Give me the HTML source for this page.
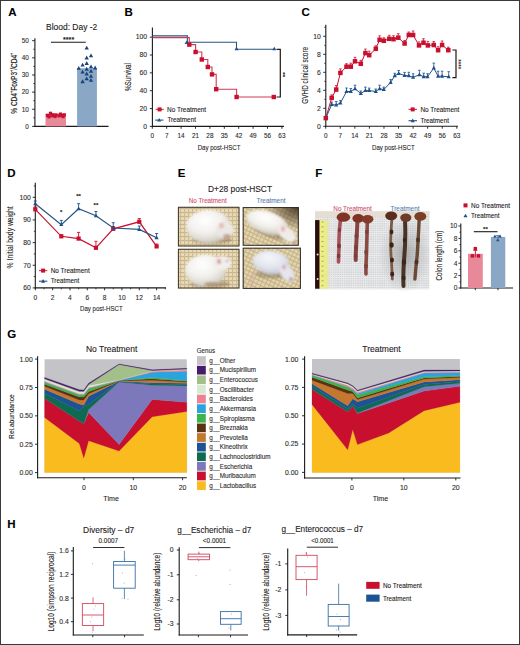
<!DOCTYPE html>
<html><head><meta charset="utf-8"><style>
html,body{margin:0;padding:0;background:#fff;}
svg{display:block;}
text{font-family:"Liberation Sans",sans-serif;}
</style></head><body>
<svg width="520" height="645" viewBox="0 0 520 645">
<rect x="0" y="0" width="520" height="645" fill="#fff"/>
<text x="8.2" y="16.3" font-size="11.5" text-anchor="start" fill="#000" stroke="#000" stroke-width="0.1" font-weight="bold">A</text>
<text x="46" y="29.5" font-size="8.6" text-anchor="start" fill="#1c1a1a" stroke="#1c1a1a" stroke-width="0.1" textLength="51.3" lengthAdjust="spacingAndGlyphs">Blood: Day -2</text>
<line x1="34.9" y1="38.2" x2="34.9" y2="126.9" stroke="#1a1a1a" stroke-width="1.1"/>
<line x1="34.4" y1="126.4" x2="108.5" y2="126.4" stroke="#1a1a1a" stroke-width="1.1"/>
<line x1="32.1" y1="126.4" x2="34.9" y2="126.4" stroke="#1a1a1a" stroke-width="0.9"/>
<text x="28.9" y="128.7" font-size="6.4" text-anchor="end" fill="#2b2b2b" stroke="#2b2b2b" stroke-width="0.1">0</text>
<line x1="32.1" y1="109.26" x2="34.9" y2="109.26" stroke="#1a1a1a" stroke-width="0.9"/>
<text x="28.9" y="111.56" font-size="6.4" text-anchor="end" fill="#2b2b2b" stroke="#2b2b2b" stroke-width="0.1">10</text>
<line x1="32.1" y1="92.12" x2="34.9" y2="92.12" stroke="#1a1a1a" stroke-width="0.9"/>
<text x="28.9" y="94.42" font-size="6.4" text-anchor="end" fill="#2b2b2b" stroke="#2b2b2b" stroke-width="0.1">20</text>
<line x1="32.1" y1="74.98" x2="34.9" y2="74.98" stroke="#1a1a1a" stroke-width="0.9"/>
<text x="28.9" y="77.28" font-size="6.4" text-anchor="end" fill="#2b2b2b" stroke="#2b2b2b" stroke-width="0.1">30</text>
<line x1="32.1" y1="57.84" x2="34.9" y2="57.84" stroke="#1a1a1a" stroke-width="0.9"/>
<text x="28.9" y="60.14" font-size="6.4" text-anchor="end" fill="#2b2b2b" stroke="#2b2b2b" stroke-width="0.1">40</text>
<line x1="32.1" y1="40.7" x2="34.9" y2="40.7" stroke="#1a1a1a" stroke-width="0.9"/>
<text x="28.9" y="43" font-size="6.4" text-anchor="end" fill="#2b2b2b" stroke="#2b2b2b" stroke-width="0.1">50</text>
<line x1="33.3" y1="117.83" x2="34.9" y2="117.83" stroke="#1a1a1a" stroke-width="0.8"/>
<line x1="33.3" y1="100.69" x2="34.9" y2="100.69" stroke="#1a1a1a" stroke-width="0.8"/>
<line x1="33.3" y1="83.55" x2="34.9" y2="83.55" stroke="#1a1a1a" stroke-width="0.8"/>
<line x1="33.3" y1="66.41" x2="34.9" y2="66.41" stroke="#1a1a1a" stroke-width="0.8"/>
<line x1="33.3" y1="49.27" x2="34.9" y2="49.27" stroke="#1a1a1a" stroke-width="0.8"/>
<text x="0" y="0" font-size="8.6" fill="#1c1a1a" stroke="#1c1a1a" stroke-width="0.18" transform="translate(16.8 83.2) rotate(-90)" text-anchor="middle" textLength="61" lengthAdjust="spacingAndGlyphs">% CD4<tspan font-size="5" dy="-3.4">+</tspan><tspan dy="3.4">FoxP3</tspan><tspan font-size="5" dy="-3.4">+</tspan><tspan dy="3.4">/CD4</tspan><tspan font-size="5" dy="-3.4">+</tspan></text>
<rect x="45.5" y="113.5" width="20.5" height="12.9" fill="#e8899a"/>
<rect x="77.1" y="68.2" width="19.8" height="58.2" fill="#8aa7c6"/>
<rect x="45.9" y="113.9" width="3.2" height="3.2" fill="#c8102e"/>
<rect x="48.9" y="111.7" width="3.2" height="3.2" fill="#c8102e"/>
<rect x="51.4" y="113.2" width="3.2" height="3.2" fill="#c8102e"/>
<rect x="54.4" y="113.4" width="3.2" height="3.2" fill="#c8102e"/>
<rect x="57.4" y="114.2" width="3.2" height="3.2" fill="#c8102e"/>
<rect x="60.4" y="113.8" width="3.2" height="3.2" fill="#c8102e"/>
<rect x="62.7" y="113.3" width="3.2" height="3.2" fill="#c8102e"/>
<rect x="47.4" y="115.2" width="3.2" height="3.2" fill="#c8102e"/>
<rect x="53.4" y="114.9" width="3.2" height="3.2" fill="#c8102e"/>
<rect x="58.9" y="112.5" width="3.2" height="3.2" fill="#c8102e"/>
<rect x="50.4" y="114.1" width="3.2" height="3.2" fill="#c8102e"/>
<rect x="61.4" y="115" width="3.2" height="3.2" fill="#c8102e"/>
<polygon points="86.7,45.68 88.85,49.55 84.55,49.55" fill="#1a4478"/>
<polygon points="91,53.38 93.15,57.25 88.85,57.25" fill="#1a4478"/>
<polygon points="86.7,55.58 88.85,59.45 84.55,59.45" fill="#1a4478"/>
<polygon points="82.6,62.68 84.75,66.55 80.45,66.55" fill="#1a4478"/>
<polygon points="86.7,61.08 88.85,64.95 84.55,64.95" fill="#1a4478"/>
<polygon points="78.75,65.88 80.9,69.75 76.6,69.75" fill="#1a4478"/>
<polygon points="91,64.38 93.15,68.25 88.85,68.25" fill="#1a4478"/>
<polygon points="95.1,65.58 97.25,69.45 92.95,69.45" fill="#1a4478"/>
<polygon points="82.6,69.68 84.75,73.55 80.45,73.55" fill="#1a4478"/>
<polygon points="86.7,66.78 88.85,70.65 84.55,70.65" fill="#1a4478"/>
<polygon points="91,68.98 93.15,72.85 88.85,72.85" fill="#1a4478"/>
<polygon points="86.7,71.58 88.85,75.45 84.55,75.45" fill="#1a4478"/>
<polygon points="91,73.98 93.15,77.85 88.85,77.85" fill="#1a4478"/>
<polygon points="82.6,79.28 84.75,83.15 80.45,83.15" fill="#1a4478"/>
<polygon points="86.7,76.43 88.85,80.3 84.55,80.3" fill="#1a4478"/>
<polygon points="91,77.88 93.15,81.75 88.85,81.75" fill="#1a4478"/>
<line x1="51" y1="42.3" x2="85.8" y2="42.3" stroke="#1a1a1a" stroke-width="1.1"/>
<text x="68.6" y="42" font-size="7.2" text-anchor="middle" fill="#1a1a1a" stroke="#1a1a1a" stroke-width="0.1" font-weight="bold">****</text>
<text x="124.5" y="16.3" font-size="11.5" text-anchor="start" fill="#000" stroke="#000" stroke-width="0.1" font-weight="bold">B</text>
<line x1="152.4" y1="27.6" x2="152.4" y2="126.9" stroke="#1a1a1a" stroke-width="1.1"/>
<line x1="151.9" y1="126.4" x2="284" y2="126.4" stroke="#1a1a1a" stroke-width="1.1"/>
<line x1="149.8" y1="126.4" x2="152.4" y2="126.4" stroke="#1a1a1a" stroke-width="0.9"/>
<text x="147" y="128.6" font-size="6.8" text-anchor="end" fill="#2b2b2b" stroke="#2b2b2b" stroke-width="0.1">0</text>
<line x1="149.8" y1="108.55" x2="152.4" y2="108.55" stroke="#1a1a1a" stroke-width="0.9"/>
<text x="147" y="110.75" font-size="6.8" text-anchor="end" fill="#2b2b2b" stroke="#2b2b2b" stroke-width="0.1">20</text>
<line x1="149.8" y1="90.7" x2="152.4" y2="90.7" stroke="#1a1a1a" stroke-width="0.9"/>
<text x="147" y="92.9" font-size="6.8" text-anchor="end" fill="#2b2b2b" stroke="#2b2b2b" stroke-width="0.1">40</text>
<line x1="149.8" y1="72.85" x2="152.4" y2="72.85" stroke="#1a1a1a" stroke-width="0.9"/>
<text x="147" y="75.05" font-size="6.8" text-anchor="end" fill="#2b2b2b" stroke="#2b2b2b" stroke-width="0.1">60</text>
<line x1="149.8" y1="55" x2="152.4" y2="55" stroke="#1a1a1a" stroke-width="0.9"/>
<text x="147" y="57.2" font-size="6.8" text-anchor="end" fill="#2b2b2b" stroke="#2b2b2b" stroke-width="0.1">80</text>
<line x1="149.8" y1="37.15" x2="152.4" y2="37.15" stroke="#1a1a1a" stroke-width="0.9"/>
<text x="147" y="39.35" font-size="6.8" text-anchor="end" fill="#2b2b2b" stroke="#2b2b2b" stroke-width="0.1">100</text>
<line x1="152.3" y1="126.4" x2="152.3" y2="128.8" stroke="#1a1a1a" stroke-width="0.9"/>
<text x="152.3" y="137.7" font-size="6.4" text-anchor="middle" fill="#2b2b2b" stroke="#2b2b2b" stroke-width="0.1">0</text>
<line x1="166.7" y1="126.4" x2="166.7" y2="128.8" stroke="#1a1a1a" stroke-width="0.9"/>
<text x="166.7" y="137.7" font-size="6.4" text-anchor="middle" fill="#2b2b2b" stroke="#2b2b2b" stroke-width="0.1">7</text>
<line x1="181.1" y1="126.4" x2="181.1" y2="128.8" stroke="#1a1a1a" stroke-width="0.9"/>
<text x="181.1" y="137.7" font-size="6.4" text-anchor="middle" fill="#2b2b2b" stroke="#2b2b2b" stroke-width="0.1">14</text>
<line x1="195.5" y1="126.4" x2="195.5" y2="128.8" stroke="#1a1a1a" stroke-width="0.9"/>
<text x="195.5" y="137.7" font-size="6.4" text-anchor="middle" fill="#2b2b2b" stroke="#2b2b2b" stroke-width="0.1">21</text>
<line x1="209.9" y1="126.4" x2="209.9" y2="128.8" stroke="#1a1a1a" stroke-width="0.9"/>
<text x="209.9" y="137.7" font-size="6.4" text-anchor="middle" fill="#2b2b2b" stroke="#2b2b2b" stroke-width="0.1">28</text>
<line x1="224.3" y1="126.4" x2="224.3" y2="128.8" stroke="#1a1a1a" stroke-width="0.9"/>
<text x="224.3" y="137.7" font-size="6.4" text-anchor="middle" fill="#2b2b2b" stroke="#2b2b2b" stroke-width="0.1">35</text>
<line x1="238.69" y1="126.4" x2="238.69" y2="128.8" stroke="#1a1a1a" stroke-width="0.9"/>
<text x="238.69" y="137.7" font-size="6.4" text-anchor="middle" fill="#2b2b2b" stroke="#2b2b2b" stroke-width="0.1">42</text>
<line x1="253.09" y1="126.4" x2="253.09" y2="128.8" stroke="#1a1a1a" stroke-width="0.9"/>
<text x="253.09" y="137.7" font-size="6.4" text-anchor="middle" fill="#2b2b2b" stroke="#2b2b2b" stroke-width="0.1">49</text>
<line x1="267.49" y1="126.4" x2="267.49" y2="128.8" stroke="#1a1a1a" stroke-width="0.9"/>
<text x="267.49" y="137.7" font-size="6.4" text-anchor="middle" fill="#2b2b2b" stroke="#2b2b2b" stroke-width="0.1">56</text>
<line x1="281.89" y1="126.4" x2="281.89" y2="128.8" stroke="#1a1a1a" stroke-width="0.9"/>
<text x="281.89" y="137.7" font-size="6.4" text-anchor="middle" fill="#2b2b2b" stroke="#2b2b2b" stroke-width="0.1">63</text>
<text x="197.7" y="149.6" font-size="8.1" text-anchor="start" fill="#1c1a1a" stroke="#1c1a1a" stroke-width="0.1" textLength="42.7" lengthAdjust="spacingAndGlyphs">Day post-HSCT</text>
<text x="0" y="0" font-size="9.6" text-anchor="middle" fill="#1c1a1a" stroke="#1c1a1a" stroke-width="0.1" textLength="28" lengthAdjust="spacingAndGlyphs" transform="translate(130.6 77) rotate(-90)">%Survival</text>
<polyline points="152.4,35.9 187.4,35.9 187.4,42.3 236.5,42.3 236.5,49.3 274.5,49.3" fill="none" stroke="#265487" stroke-width="1.1" stroke-linejoin="miter"/>
<polyline points="152.4,37.6 189.3,37.6 189.3,44.6 195.6,44.6 195.6,52 201.8,52 201.8,59.5 207.8,59.5 207.8,67 212,67 212,74.4 216.2,74.4 216.2,89.2 236.6,89.2 236.6,97 273.8,97 273.8,97" fill="none" stroke="#cf3a55" stroke-width="1.1" stroke-linejoin="miter"/>
<rect x="187.1" y="42.4" width="4.4" height="4.4" fill="#c8102e"/>
<rect x="193.4" y="49.8" width="4.4" height="4.4" fill="#c8102e"/>
<rect x="199.6" y="57.3" width="4.4" height="4.4" fill="#c8102e"/>
<rect x="205.6" y="64.8" width="4.4" height="4.4" fill="#c8102e"/>
<rect x="209.8" y="72.2" width="4.4" height="4.4" fill="#c8102e"/>
<rect x="214" y="87" width="4.4" height="4.4" fill="#c8102e"/>
<rect x="234.4" y="94.8" width="4.4" height="4.4" fill="#c8102e"/>
<rect x="271.6" y="94.8" width="4.4" height="4.4" fill="#c8102e"/>
<polygon points="186.6,40.44 188.6,44.04 184.6,44.04" fill="#1d4f8b"/>
<polygon points="236.5,46.74 238.5,50.34 234.5,50.34" fill="#1d4f8b"/>
<polygon points="274.3,46.74 276.3,50.34 272.3,50.34" fill="#1d4f8b"/>
<polyline points="276.5,49.3 280.3,49.3 280.3,97 276.5,97" fill="none" stroke="#1a1a1a" stroke-width="1.2" stroke-linejoin="miter"/>
<text x="0" y="0" font-size="6" text-anchor="middle" fill="#1a1a1a" stroke="#1a1a1a" stroke-width="0.1" font-weight="bold" transform="translate(280.6 74.7) rotate(90)">**</text>
<line x1="155.6" y1="109.4" x2="163.8" y2="109.4" stroke="#cf3a55" stroke-width="1.1"/>
<rect x="157.6" y="107.4" width="4" height="4" fill="#c8102e"/>
<text x="167.1" y="111.6" font-size="6.4" text-anchor="start" fill="#1c1a1a" stroke="#1c1a1a" stroke-width="0.1" textLength="39" lengthAdjust="spacingAndGlyphs">No Treatment</text>
<line x1="155.2" y1="120.1" x2="163.4" y2="120.1" stroke="#265487" stroke-width="1.1"/>
<polygon points="159.2,117.94 161.2,121.54 157.2,121.54" fill="#1d4f8b"/>
<text x="167.4" y="122.3" font-size="6.4" text-anchor="start" fill="#1c1a1a" stroke="#1c1a1a" stroke-width="0.1" textLength="28.5" lengthAdjust="spacingAndGlyphs">Treatment</text>
<text x="301.5" y="16.3" font-size="11.5" text-anchor="start" fill="#000" stroke="#000" stroke-width="0.1" font-weight="bold">C</text>
<line x1="325.8" y1="24.8" x2="325.8" y2="126.8" stroke="#1a1a1a" stroke-width="1.1"/>
<line x1="325.3" y1="126.3" x2="458" y2="126.3" stroke="#1a1a1a" stroke-width="1.1"/>
<line x1="323.2" y1="126.3" x2="325.8" y2="126.3" stroke="#1a1a1a" stroke-width="0.9"/>
<text x="320.8" y="128.6" font-size="6.8" text-anchor="end" fill="#2b2b2b" stroke="#2b2b2b" stroke-width="0.1">0</text>
<line x1="323.2" y1="108.3" x2="325.8" y2="108.3" stroke="#1a1a1a" stroke-width="0.9"/>
<text x="320.8" y="110.6" font-size="6.8" text-anchor="end" fill="#2b2b2b" stroke="#2b2b2b" stroke-width="0.1">2</text>
<line x1="323.2" y1="90.3" x2="325.8" y2="90.3" stroke="#1a1a1a" stroke-width="0.9"/>
<text x="320.8" y="92.6" font-size="6.8" text-anchor="end" fill="#2b2b2b" stroke="#2b2b2b" stroke-width="0.1">4</text>
<line x1="323.2" y1="72.3" x2="325.8" y2="72.3" stroke="#1a1a1a" stroke-width="0.9"/>
<text x="320.8" y="74.6" font-size="6.8" text-anchor="end" fill="#2b2b2b" stroke="#2b2b2b" stroke-width="0.1">6</text>
<line x1="323.2" y1="54.3" x2="325.8" y2="54.3" stroke="#1a1a1a" stroke-width="0.9"/>
<text x="320.8" y="56.6" font-size="6.8" text-anchor="end" fill="#2b2b2b" stroke="#2b2b2b" stroke-width="0.1">8</text>
<line x1="323.2" y1="36.3" x2="325.8" y2="36.3" stroke="#1a1a1a" stroke-width="0.9"/>
<text x="320.8" y="38.6" font-size="6.8" text-anchor="end" fill="#2b2b2b" stroke="#2b2b2b" stroke-width="0.1">10</text>
<line x1="324.3" y1="117.3" x2="325.8" y2="117.3" stroke="#1a1a1a" stroke-width="0.8"/>
<line x1="324.3" y1="99.3" x2="325.8" y2="99.3" stroke="#1a1a1a" stroke-width="0.8"/>
<line x1="324.3" y1="81.3" x2="325.8" y2="81.3" stroke="#1a1a1a" stroke-width="0.8"/>
<line x1="324.3" y1="63.3" x2="325.8" y2="63.3" stroke="#1a1a1a" stroke-width="0.8"/>
<line x1="324.3" y1="45.3" x2="325.8" y2="45.3" stroke="#1a1a1a" stroke-width="0.8"/>
<line x1="324.3" y1="27.3" x2="325.8" y2="27.3" stroke="#1a1a1a" stroke-width="0.8"/>
<line x1="325.7" y1="126.3" x2="325.7" y2="128.7" stroke="#1a1a1a" stroke-width="0.9"/>
<text x="325.7" y="137.6" font-size="6.4" text-anchor="middle" fill="#2b2b2b" stroke="#2b2b2b" stroke-width="0.1">0</text>
<line x1="340.27" y1="126.3" x2="340.27" y2="128.7" stroke="#1a1a1a" stroke-width="0.9"/>
<text x="340.27" y="137.6" font-size="6.4" text-anchor="middle" fill="#2b2b2b" stroke="#2b2b2b" stroke-width="0.1">7</text>
<line x1="354.83" y1="126.3" x2="354.83" y2="128.7" stroke="#1a1a1a" stroke-width="0.9"/>
<text x="354.83" y="137.6" font-size="6.4" text-anchor="middle" fill="#2b2b2b" stroke="#2b2b2b" stroke-width="0.1">14</text>
<line x1="369.4" y1="126.3" x2="369.4" y2="128.7" stroke="#1a1a1a" stroke-width="0.9"/>
<text x="369.4" y="137.6" font-size="6.4" text-anchor="middle" fill="#2b2b2b" stroke="#2b2b2b" stroke-width="0.1">21</text>
<line x1="383.97" y1="126.3" x2="383.97" y2="128.7" stroke="#1a1a1a" stroke-width="0.9"/>
<text x="383.97" y="137.6" font-size="6.4" text-anchor="middle" fill="#2b2b2b" stroke="#2b2b2b" stroke-width="0.1">28</text>
<line x1="398.53" y1="126.3" x2="398.53" y2="128.7" stroke="#1a1a1a" stroke-width="0.9"/>
<text x="398.53" y="137.6" font-size="6.4" text-anchor="middle" fill="#2b2b2b" stroke="#2b2b2b" stroke-width="0.1">35</text>
<line x1="413.1" y1="126.3" x2="413.1" y2="128.7" stroke="#1a1a1a" stroke-width="0.9"/>
<text x="413.1" y="137.6" font-size="6.4" text-anchor="middle" fill="#2b2b2b" stroke="#2b2b2b" stroke-width="0.1">42</text>
<line x1="427.67" y1="126.3" x2="427.67" y2="128.7" stroke="#1a1a1a" stroke-width="0.9"/>
<text x="427.67" y="137.6" font-size="6.4" text-anchor="middle" fill="#2b2b2b" stroke="#2b2b2b" stroke-width="0.1">49</text>
<line x1="442.24" y1="126.3" x2="442.24" y2="128.7" stroke="#1a1a1a" stroke-width="0.9"/>
<text x="442.24" y="137.6" font-size="6.4" text-anchor="middle" fill="#2b2b2b" stroke="#2b2b2b" stroke-width="0.1">56</text>
<line x1="456.8" y1="126.3" x2="456.8" y2="128.7" stroke="#1a1a1a" stroke-width="0.9"/>
<text x="456.8" y="137.6" font-size="6.4" text-anchor="middle" fill="#2b2b2b" stroke="#2b2b2b" stroke-width="0.1">63</text>
<text x="372" y="149.6" font-size="8.1" text-anchor="start" fill="#1c1a1a" stroke="#1c1a1a" stroke-width="0.1" textLength="42.7" lengthAdjust="spacingAndGlyphs">Day post-HSCT</text>
<text x="0" y="0" font-size="8.4" text-anchor="middle" fill="#1c1a1a" stroke="#1c1a1a" stroke-width="0.1" textLength="56.8" lengthAdjust="spacingAndGlyphs" transform="translate(308.3 75.3) rotate(-90)">GVHD clinical score</text>
<line x1="331.7" y1="97.9" x2="331.7" y2="94.9" stroke="#c8102e" stroke-width="0.8"/>
<line x1="330.4" y1="94.9" x2="333" y2="94.9" stroke="#c8102e" stroke-width="0.8"/>
<line x1="336.2" y1="89.6" x2="336.2" y2="85.6" stroke="#c8102e" stroke-width="0.8"/>
<line x1="334.9" y1="85.6" x2="337.5" y2="85.6" stroke="#c8102e" stroke-width="0.8"/>
<line x1="340.4" y1="72.9" x2="340.4" y2="68.9" stroke="#c8102e" stroke-width="0.8"/>
<line x1="339.1" y1="68.9" x2="341.7" y2="68.9" stroke="#c8102e" stroke-width="0.8"/>
<line x1="346.5" y1="66.7" x2="346.5" y2="63.7" stroke="#c8102e" stroke-width="0.8"/>
<line x1="345.2" y1="63.7" x2="347.8" y2="63.7" stroke="#c8102e" stroke-width="0.8"/>
<line x1="350.8" y1="66.7" x2="350.8" y2="63.2" stroke="#c8102e" stroke-width="0.8"/>
<line x1="349.5" y1="63.2" x2="352.1" y2="63.2" stroke="#c8102e" stroke-width="0.8"/>
<line x1="355" y1="61.3" x2="355" y2="57.3" stroke="#c8102e" stroke-width="0.8"/>
<line x1="353.7" y1="57.3" x2="356.3" y2="57.3" stroke="#c8102e" stroke-width="0.8"/>
<line x1="360.8" y1="63.8" x2="360.8" y2="60.3" stroke="#c8102e" stroke-width="0.8"/>
<line x1="359.5" y1="60.3" x2="362.1" y2="60.3" stroke="#c8102e" stroke-width="0.8"/>
<line x1="365.4" y1="53.1" x2="365.4" y2="49.1" stroke="#c8102e" stroke-width="0.8"/>
<line x1="364.1" y1="49.1" x2="366.7" y2="49.1" stroke="#c8102e" stroke-width="0.8"/>
<line x1="369.2" y1="55.2" x2="369.2" y2="51.2" stroke="#c8102e" stroke-width="0.8"/>
<line x1="367.9" y1="51.2" x2="370.5" y2="51.2" stroke="#c8102e" stroke-width="0.8"/>
<line x1="375.8" y1="48.8" x2="375.8" y2="45.8" stroke="#c8102e" stroke-width="0.8"/>
<line x1="374.5" y1="45.8" x2="377.1" y2="45.8" stroke="#c8102e" stroke-width="0.8"/>
<line x1="379.6" y1="39.8" x2="379.6" y2="35.8" stroke="#c8102e" stroke-width="0.8"/>
<line x1="378.3" y1="35.8" x2="380.9" y2="35.8" stroke="#c8102e" stroke-width="0.8"/>
<line x1="383.8" y1="40.8" x2="383.8" y2="37.8" stroke="#c8102e" stroke-width="0.8"/>
<line x1="382.5" y1="37.8" x2="385.1" y2="37.8" stroke="#c8102e" stroke-width="0.8"/>
<line x1="389.2" y1="38.8" x2="389.2" y2="35.3" stroke="#c8102e" stroke-width="0.8"/>
<line x1="387.9" y1="35.3" x2="390.5" y2="35.3" stroke="#c8102e" stroke-width="0.8"/>
<line x1="393.5" y1="39.2" x2="393.5" y2="35.7" stroke="#c8102e" stroke-width="0.8"/>
<line x1="392.2" y1="35.7" x2="394.8" y2="35.7" stroke="#c8102e" stroke-width="0.8"/>
<line x1="398.3" y1="37.7" x2="398.3" y2="33.7" stroke="#c8102e" stroke-width="0.8"/>
<line x1="397" y1="33.7" x2="399.6" y2="33.7" stroke="#c8102e" stroke-width="0.8"/>
<line x1="404.6" y1="43.5" x2="404.6" y2="40.5" stroke="#c8102e" stroke-width="0.8"/>
<line x1="403.3" y1="40.5" x2="405.9" y2="40.5" stroke="#c8102e" stroke-width="0.8"/>
<line x1="408.8" y1="35" x2="408.8" y2="32" stroke="#c8102e" stroke-width="0.8"/>
<line x1="407.5" y1="32" x2="410.1" y2="32" stroke="#c8102e" stroke-width="0.8"/>
<line x1="413.1" y1="35" x2="413.1" y2="31" stroke="#c8102e" stroke-width="0.8"/>
<line x1="411.8" y1="31" x2="414.4" y2="31" stroke="#c8102e" stroke-width="0.8"/>
<line x1="419" y1="45.4" x2="419" y2="41.9" stroke="#c8102e" stroke-width="0.8"/>
<line x1="417.7" y1="41.9" x2="420.3" y2="41.9" stroke="#c8102e" stroke-width="0.8"/>
<line x1="423.5" y1="42.7" x2="423.5" y2="38.7" stroke="#c8102e" stroke-width="0.8"/>
<line x1="422.2" y1="38.7" x2="424.8" y2="38.7" stroke="#c8102e" stroke-width="0.8"/>
<line x1="427.9" y1="45.4" x2="427.9" y2="41.4" stroke="#c8102e" stroke-width="0.8"/>
<line x1="426.6" y1="41.4" x2="429.2" y2="41.4" stroke="#c8102e" stroke-width="0.8"/>
<line x1="433.8" y1="45" x2="433.8" y2="41.5" stroke="#c8102e" stroke-width="0.8"/>
<line x1="432.5" y1="41.5" x2="435.1" y2="41.5" stroke="#c8102e" stroke-width="0.8"/>
<line x1="438.1" y1="50.2" x2="438.1" y2="46.7" stroke="#c8102e" stroke-width="0.8"/>
<line x1="436.8" y1="46.7" x2="439.4" y2="46.7" stroke="#c8102e" stroke-width="0.8"/>
<line x1="442.1" y1="45" x2="442.1" y2="41" stroke="#c8102e" stroke-width="0.8"/>
<line x1="440.8" y1="41" x2="443.4" y2="41" stroke="#c8102e" stroke-width="0.8"/>
<line x1="448.3" y1="50.2" x2="448.3" y2="47.2" stroke="#c8102e" stroke-width="0.8"/>
<line x1="447" y1="47.2" x2="449.6" y2="47.2" stroke="#c8102e" stroke-width="0.8"/>
<line x1="331.7" y1="104.6" x2="331.7" y2="102.1" stroke="#1d4f8b" stroke-width="0.8"/>
<line x1="330.4" y1="102.1" x2="333" y2="102.1" stroke="#1d4f8b" stroke-width="0.8"/>
<line x1="336.2" y1="105" x2="336.2" y2="101.5" stroke="#1d4f8b" stroke-width="0.8"/>
<line x1="334.9" y1="101.5" x2="337.5" y2="101.5" stroke="#1d4f8b" stroke-width="0.8"/>
<line x1="340.4" y1="103.1" x2="340.4" y2="100.6" stroke="#1d4f8b" stroke-width="0.8"/>
<line x1="339.1" y1="100.6" x2="341.7" y2="100.6" stroke="#1d4f8b" stroke-width="0.8"/>
<line x1="346.5" y1="91.5" x2="346.5" y2="88" stroke="#1d4f8b" stroke-width="0.8"/>
<line x1="345.2" y1="88" x2="347.8" y2="88" stroke="#1d4f8b" stroke-width="0.8"/>
<line x1="350.8" y1="91.5" x2="350.8" y2="88.5" stroke="#1d4f8b" stroke-width="0.8"/>
<line x1="349.5" y1="88.5" x2="352.1" y2="88.5" stroke="#1d4f8b" stroke-width="0.8"/>
<line x1="355" y1="88.7" x2="355" y2="85.2" stroke="#1d4f8b" stroke-width="0.8"/>
<line x1="353.7" y1="85.2" x2="356.3" y2="85.2" stroke="#1d4f8b" stroke-width="0.8"/>
<line x1="360.8" y1="93.5" x2="360.8" y2="91" stroke="#1d4f8b" stroke-width="0.8"/>
<line x1="359.5" y1="91" x2="362.1" y2="91" stroke="#1d4f8b" stroke-width="0.8"/>
<line x1="365.4" y1="90.6" x2="365.4" y2="87.1" stroke="#1d4f8b" stroke-width="0.8"/>
<line x1="364.1" y1="87.1" x2="366.7" y2="87.1" stroke="#1d4f8b" stroke-width="0.8"/>
<line x1="369.2" y1="90.6" x2="369.2" y2="88.1" stroke="#1d4f8b" stroke-width="0.8"/>
<line x1="367.9" y1="88.1" x2="370.5" y2="88.1" stroke="#1d4f8b" stroke-width="0.8"/>
<line x1="375.8" y1="91.5" x2="375.8" y2="89" stroke="#1d4f8b" stroke-width="0.8"/>
<line x1="374.5" y1="89" x2="377.1" y2="89" stroke="#1d4f8b" stroke-width="0.8"/>
<line x1="379.6" y1="88.7" x2="379.6" y2="85.2" stroke="#1d4f8b" stroke-width="0.8"/>
<line x1="378.3" y1="85.2" x2="380.9" y2="85.2" stroke="#1d4f8b" stroke-width="0.8"/>
<line x1="383.8" y1="89.6" x2="383.8" y2="87.1" stroke="#1d4f8b" stroke-width="0.8"/>
<line x1="382.5" y1="87.1" x2="385.1" y2="87.1" stroke="#1d4f8b" stroke-width="0.8"/>
<line x1="390.6" y1="82.5" x2="390.6" y2="79.5" stroke="#1d4f8b" stroke-width="0.8"/>
<line x1="389.3" y1="79.5" x2="391.9" y2="79.5" stroke="#1d4f8b" stroke-width="0.8"/>
<line x1="394.8" y1="75.8" x2="394.8" y2="73.3" stroke="#1d4f8b" stroke-width="0.8"/>
<line x1="393.5" y1="73.3" x2="396.1" y2="73.3" stroke="#1d4f8b" stroke-width="0.8"/>
<line x1="398.7" y1="73.5" x2="398.7" y2="70.5" stroke="#1d4f8b" stroke-width="0.8"/>
<line x1="397.4" y1="70.5" x2="400" y2="70.5" stroke="#1d4f8b" stroke-width="0.8"/>
<line x1="404.6" y1="75.4" x2="404.6" y2="72.4" stroke="#1d4f8b" stroke-width="0.8"/>
<line x1="403.3" y1="72.4" x2="405.9" y2="72.4" stroke="#1d4f8b" stroke-width="0.8"/>
<line x1="408.8" y1="75.8" x2="408.8" y2="72.3" stroke="#1d4f8b" stroke-width="0.8"/>
<line x1="407.5" y1="72.3" x2="410.1" y2="72.3" stroke="#1d4f8b" stroke-width="0.8"/>
<line x1="413.1" y1="77.3" x2="413.1" y2="73.8" stroke="#1d4f8b" stroke-width="0.8"/>
<line x1="411.8" y1="73.8" x2="414.4" y2="73.8" stroke="#1d4f8b" stroke-width="0.8"/>
<line x1="419.4" y1="74.8" x2="419.4" y2="70.3" stroke="#1d4f8b" stroke-width="0.8"/>
<line x1="418.1" y1="70.3" x2="420.7" y2="70.3" stroke="#1d4f8b" stroke-width="0.8"/>
<line x1="423.7" y1="76.7" x2="423.7" y2="73.2" stroke="#1d4f8b" stroke-width="0.8"/>
<line x1="422.4" y1="73.2" x2="425" y2="73.2" stroke="#1d4f8b" stroke-width="0.8"/>
<line x1="427.5" y1="76.7" x2="427.5" y2="73.7" stroke="#1d4f8b" stroke-width="0.8"/>
<line x1="426.2" y1="73.7" x2="428.8" y2="73.7" stroke="#1d4f8b" stroke-width="0.8"/>
<line x1="433.8" y1="68.1" x2="433.8" y2="63.1" stroke="#1d4f8b" stroke-width="0.8"/>
<line x1="432.5" y1="63.1" x2="435.1" y2="63.1" stroke="#1d4f8b" stroke-width="0.8"/>
<line x1="438.1" y1="76.2" x2="438.1" y2="71.2" stroke="#1d4f8b" stroke-width="0.8"/>
<line x1="436.8" y1="71.2" x2="439.4" y2="71.2" stroke="#1d4f8b" stroke-width="0.8"/>
<line x1="442.1" y1="76.2" x2="442.1" y2="71.2" stroke="#1d4f8b" stroke-width="0.8"/>
<line x1="440.8" y1="71.2" x2="443.4" y2="71.2" stroke="#1d4f8b" stroke-width="0.8"/>
<line x1="448.7" y1="76.7" x2="448.7" y2="71.7" stroke="#1d4f8b" stroke-width="0.8"/>
<line x1="447.4" y1="71.7" x2="450" y2="71.7" stroke="#1d4f8b" stroke-width="0.8"/>
<polyline points="325.8,118.1 331.7,97.9 336.2,89.6 340.4,72.9 346.5,66.7 350.8,66.7 355,61.3 360.8,63.8 365.4,53.1 369.2,55.2 375.8,48.8 379.6,39.8 383.8,40.8 389.2,38.8 393.5,39.2 398.3,37.7 404.6,43.5 408.8,35 413.1,35 419,45.4 423.5,42.7 427.9,45.4 433.8,45 438.1,50.2 442.1,45 448.3,50.2" fill="none" stroke="#c8102e" stroke-width="1" stroke-linejoin="miter"/>
<polyline points="325.8,118.1 331.7,104.6 336.2,105 340.4,103.1 346.5,91.5 350.8,91.5 355,88.7 360.8,93.5 365.4,90.6 369.2,90.6 375.8,91.5 379.6,88.7 383.8,89.6 390.6,82.5 394.8,75.8 398.7,73.5 404.6,75.4 408.8,75.8 413.1,77.3 419.4,74.8 423.7,76.7 427.5,76.7 433.8,68.1 438.1,76.2 442.1,76.2 448.7,76.7" fill="none" stroke="#265487" stroke-width="1" stroke-linejoin="miter"/>
<rect x="323.55" y="115.85" width="4.5" height="4.5" fill="#c8102e"/>
<rect x="329.45" y="95.65" width="4.5" height="4.5" fill="#c8102e"/>
<rect x="333.95" y="87.35" width="4.5" height="4.5" fill="#c8102e"/>
<rect x="338.15" y="70.65" width="4.5" height="4.5" fill="#c8102e"/>
<rect x="344.25" y="64.45" width="4.5" height="4.5" fill="#c8102e"/>
<rect x="348.55" y="64.45" width="4.5" height="4.5" fill="#c8102e"/>
<rect x="352.75" y="59.05" width="4.5" height="4.5" fill="#c8102e"/>
<rect x="358.55" y="61.55" width="4.5" height="4.5" fill="#c8102e"/>
<rect x="363.15" y="50.85" width="4.5" height="4.5" fill="#c8102e"/>
<rect x="366.95" y="52.95" width="4.5" height="4.5" fill="#c8102e"/>
<rect x="373.55" y="46.55" width="4.5" height="4.5" fill="#c8102e"/>
<rect x="377.35" y="37.55" width="4.5" height="4.5" fill="#c8102e"/>
<rect x="381.55" y="38.55" width="4.5" height="4.5" fill="#c8102e"/>
<rect x="386.95" y="36.55" width="4.5" height="4.5" fill="#c8102e"/>
<rect x="391.25" y="36.95" width="4.5" height="4.5" fill="#c8102e"/>
<rect x="396.05" y="35.45" width="4.5" height="4.5" fill="#c8102e"/>
<rect x="402.35" y="41.25" width="4.5" height="4.5" fill="#c8102e"/>
<rect x="406.55" y="32.75" width="4.5" height="4.5" fill="#c8102e"/>
<rect x="410.85" y="32.75" width="4.5" height="4.5" fill="#c8102e"/>
<rect x="416.75" y="43.15" width="4.5" height="4.5" fill="#c8102e"/>
<rect x="421.25" y="40.45" width="4.5" height="4.5" fill="#c8102e"/>
<rect x="425.65" y="43.15" width="4.5" height="4.5" fill="#c8102e"/>
<rect x="431.55" y="42.75" width="4.5" height="4.5" fill="#c8102e"/>
<rect x="435.85" y="47.95" width="4.5" height="4.5" fill="#c8102e"/>
<rect x="439.85" y="42.75" width="4.5" height="4.5" fill="#c8102e"/>
<rect x="446.05" y="47.95" width="4.5" height="4.5" fill="#c8102e"/>
<polygon points="331.7,102.33 333.8,106.11 329.6,106.11" fill="#1d4f8b"/>
<polygon points="336.2,102.73 338.3,106.51 334.1,106.51" fill="#1d4f8b"/>
<polygon points="340.4,100.83 342.5,104.61 338.3,104.61" fill="#1d4f8b"/>
<polygon points="346.5,89.23 348.6,93.01 344.4,93.01" fill="#1d4f8b"/>
<polygon points="350.8,89.23 352.9,93.01 348.7,93.01" fill="#1d4f8b"/>
<polygon points="355,86.43 357.1,90.21 352.9,90.21" fill="#1d4f8b"/>
<polygon points="360.8,91.23 362.9,95.01 358.7,95.01" fill="#1d4f8b"/>
<polygon points="365.4,88.33 367.5,92.11 363.3,92.11" fill="#1d4f8b"/>
<polygon points="369.2,88.33 371.3,92.11 367.1,92.11" fill="#1d4f8b"/>
<polygon points="375.8,89.23 377.9,93.01 373.7,93.01" fill="#1d4f8b"/>
<polygon points="379.6,86.43 381.7,90.21 377.5,90.21" fill="#1d4f8b"/>
<polygon points="383.8,87.33 385.9,91.11 381.7,91.11" fill="#1d4f8b"/>
<polygon points="390.6,80.23 392.7,84.01 388.5,84.01" fill="#1d4f8b"/>
<polygon points="394.8,73.53 396.9,77.31 392.7,77.31" fill="#1d4f8b"/>
<polygon points="398.7,71.23 400.8,75.01 396.6,75.01" fill="#1d4f8b"/>
<polygon points="404.6,73.13 406.7,76.91 402.5,76.91" fill="#1d4f8b"/>
<polygon points="408.8,73.53 410.9,77.31 406.7,77.31" fill="#1d4f8b"/>
<polygon points="413.1,75.03 415.2,78.81 411,78.81" fill="#1d4f8b"/>
<polygon points="419.4,72.53 421.5,76.31 417.3,76.31" fill="#1d4f8b"/>
<polygon points="423.7,74.43 425.8,78.21 421.6,78.21" fill="#1d4f8b"/>
<polygon points="427.5,74.43 429.6,78.21 425.4,78.21" fill="#1d4f8b"/>
<polygon points="433.8,65.83 435.9,69.61 431.7,69.61" fill="#1d4f8b"/>
<polygon points="438.1,73.93 440.2,77.71 436,77.71" fill="#1d4f8b"/>
<polygon points="442.1,73.93 444.2,77.71 440,77.71" fill="#1d4f8b"/>
<polygon points="448.7,74.43 450.8,78.21 446.6,78.21" fill="#1d4f8b"/>
<polyline points="452.4,50 456,50 456,77.6 452.4,77.6" fill="none" stroke="#1a1a1a" stroke-width="1.2" stroke-linejoin="miter"/>
<text x="0" y="0" font-size="6.4" text-anchor="middle" fill="#1a1a1a" stroke="#1a1a1a" stroke-width="0.1" transform="translate(455.6 64.2) rotate(90)">****</text>
<line x1="408.5" y1="109.4" x2="417" y2="109.4" stroke="#cf3a55" stroke-width="1.1"/>
<rect x="410.7" y="107.4" width="4" height="4" fill="#c8102e"/>
<text x="420.4" y="111.6" font-size="6.4" text-anchor="start" fill="#1c1a1a" stroke="#1c1a1a" stroke-width="0.1" textLength="39" lengthAdjust="spacingAndGlyphs">No Treatment</text>
<line x1="408.5" y1="120.7" x2="417" y2="120.7" stroke="#265487" stroke-width="1.1"/>
<polygon points="412.7,118.54 414.7,122.14 410.7,122.14" fill="#1d4f8b"/>
<text x="420.4" y="122.9" font-size="6.4" text-anchor="start" fill="#1c1a1a" stroke="#1c1a1a" stroke-width="0.1" textLength="28.5" lengthAdjust="spacingAndGlyphs">Treatment</text>
<text x="7.3" y="176.6" font-size="11.5" text-anchor="start" fill="#000" stroke="#000" stroke-width="0.1" font-weight="bold">D</text>
<line x1="35.3" y1="182.8" x2="35.3" y2="288.4" stroke="#1a1a1a" stroke-width="1.1"/>
<line x1="34.8" y1="287.9" x2="166" y2="287.9" stroke="#1a1a1a" stroke-width="1.1"/>
<line x1="32.7" y1="287.9" x2="35.3" y2="287.9" stroke="#1a1a1a" stroke-width="0.9"/>
<text x="30.8" y="290.2" font-size="6.8" text-anchor="end" fill="#2b2b2b" stroke="#2b2b2b" stroke-width="0.1">60</text>
<line x1="32.7" y1="265.25" x2="35.3" y2="265.25" stroke="#1a1a1a" stroke-width="0.9"/>
<text x="30.8" y="267.55" font-size="6.8" text-anchor="end" fill="#2b2b2b" stroke="#2b2b2b" stroke-width="0.1">70</text>
<line x1="32.7" y1="242.6" x2="35.3" y2="242.6" stroke="#1a1a1a" stroke-width="0.9"/>
<text x="30.8" y="244.9" font-size="6.8" text-anchor="end" fill="#2b2b2b" stroke="#2b2b2b" stroke-width="0.1">80</text>
<line x1="32.7" y1="219.95" x2="35.3" y2="219.95" stroke="#1a1a1a" stroke-width="0.9"/>
<text x="30.8" y="222.25" font-size="6.8" text-anchor="end" fill="#2b2b2b" stroke="#2b2b2b" stroke-width="0.1">90</text>
<line x1="32.7" y1="197.3" x2="35.3" y2="197.3" stroke="#1a1a1a" stroke-width="0.9"/>
<text x="30.8" y="199.6" font-size="6.8" text-anchor="end" fill="#2b2b2b" stroke="#2b2b2b" stroke-width="0.1">100</text>
<line x1="33.8" y1="276.57" x2="35.3" y2="276.57" stroke="#1a1a1a" stroke-width="0.8"/>
<line x1="33.8" y1="253.92" x2="35.3" y2="253.92" stroke="#1a1a1a" stroke-width="0.8"/>
<line x1="33.8" y1="231.27" x2="35.3" y2="231.27" stroke="#1a1a1a" stroke-width="0.8"/>
<line x1="33.8" y1="208.62" x2="35.3" y2="208.62" stroke="#1a1a1a" stroke-width="0.8"/>
<line x1="33.8" y1="185.97" x2="35.3" y2="185.97" stroke="#1a1a1a" stroke-width="0.8"/>
<line x1="35.3" y1="287.9" x2="35.3" y2="290.3" stroke="#1a1a1a" stroke-width="0.9"/>
<text x="35.3" y="299.6" font-size="6.6" text-anchor="middle" fill="#2b2b2b" stroke="#2b2b2b" stroke-width="0.1">0</text>
<line x1="52.63" y1="287.9" x2="52.63" y2="290.3" stroke="#1a1a1a" stroke-width="0.9"/>
<text x="52.63" y="299.6" font-size="6.6" text-anchor="middle" fill="#2b2b2b" stroke="#2b2b2b" stroke-width="0.1">2</text>
<line x1="69.96" y1="287.9" x2="69.96" y2="290.3" stroke="#1a1a1a" stroke-width="0.9"/>
<text x="69.96" y="299.6" font-size="6.6" text-anchor="middle" fill="#2b2b2b" stroke="#2b2b2b" stroke-width="0.1">4</text>
<line x1="87.28" y1="287.9" x2="87.28" y2="290.3" stroke="#1a1a1a" stroke-width="0.9"/>
<text x="87.28" y="299.6" font-size="6.6" text-anchor="middle" fill="#2b2b2b" stroke="#2b2b2b" stroke-width="0.1">6</text>
<line x1="104.61" y1="287.9" x2="104.61" y2="290.3" stroke="#1a1a1a" stroke-width="0.9"/>
<text x="104.61" y="299.6" font-size="6.6" text-anchor="middle" fill="#2b2b2b" stroke="#2b2b2b" stroke-width="0.1">8</text>
<line x1="121.94" y1="287.9" x2="121.94" y2="290.3" stroke="#1a1a1a" stroke-width="0.9"/>
<text x="121.94" y="299.6" font-size="6.6" text-anchor="middle" fill="#2b2b2b" stroke="#2b2b2b" stroke-width="0.1">10</text>
<line x1="139.27" y1="287.9" x2="139.27" y2="290.3" stroke="#1a1a1a" stroke-width="0.9"/>
<text x="139.27" y="299.6" font-size="6.6" text-anchor="middle" fill="#2b2b2b" stroke="#2b2b2b" stroke-width="0.1">12</text>
<line x1="156.6" y1="287.9" x2="156.6" y2="290.3" stroke="#1a1a1a" stroke-width="0.9"/>
<text x="156.6" y="299.6" font-size="6.6" text-anchor="middle" fill="#2b2b2b" stroke="#2b2b2b" stroke-width="0.1">14</text>
<line x1="43.96" y1="287.9" x2="43.96" y2="289.3" stroke="#1a1a1a" stroke-width="0.8"/>
<line x1="61.29" y1="287.9" x2="61.29" y2="289.3" stroke="#1a1a1a" stroke-width="0.8"/>
<line x1="78.62" y1="287.9" x2="78.62" y2="289.3" stroke="#1a1a1a" stroke-width="0.8"/>
<line x1="95.95" y1="287.9" x2="95.95" y2="289.3" stroke="#1a1a1a" stroke-width="0.8"/>
<line x1="113.28" y1="287.9" x2="113.28" y2="289.3" stroke="#1a1a1a" stroke-width="0.8"/>
<line x1="130.6" y1="287.9" x2="130.6" y2="289.3" stroke="#1a1a1a" stroke-width="0.8"/>
<line x1="147.93" y1="287.9" x2="147.93" y2="289.3" stroke="#1a1a1a" stroke-width="0.8"/>
<line x1="165.26" y1="287.9" x2="165.26" y2="289.3" stroke="#1a1a1a" stroke-width="0.8"/>
<text x="80" y="310.5" font-size="8.1" text-anchor="start" fill="#1c1a1a" stroke="#1c1a1a" stroke-width="0.1" textLength="42.7" lengthAdjust="spacingAndGlyphs">Day post-HSCT</text>
<text x="0" y="0" font-size="8.4" text-anchor="middle" fill="#1c1a1a" stroke="#1c1a1a" stroke-width="0.1" textLength="62" lengthAdjust="spacingAndGlyphs" transform="translate(12.8 237.4) rotate(-90)">% Initial body weight</text>
<line x1="35.3" y1="209.3" x2="35.3" y2="207" stroke="#c8102e" stroke-width="0.9"/>
<line x1="33.8" y1="207" x2="36.8" y2="207" stroke="#c8102e" stroke-width="0.9"/>
<line x1="61.29" y1="236.3" x2="61.29" y2="235" stroke="#c8102e" stroke-width="0.9"/>
<line x1="59.79" y1="235" x2="62.79" y2="235" stroke="#c8102e" stroke-width="0.9"/>
<line x1="78.62" y1="238.6" x2="78.62" y2="232.4" stroke="#c8102e" stroke-width="0.9"/>
<line x1="77.12" y1="232.4" x2="80.12" y2="232.4" stroke="#c8102e" stroke-width="0.9"/>
<line x1="95.95" y1="247.8" x2="95.95" y2="241.3" stroke="#c8102e" stroke-width="0.9"/>
<line x1="94.45" y1="241.3" x2="97.45" y2="241.3" stroke="#c8102e" stroke-width="0.9"/>
<line x1="113.28" y1="228.8" x2="113.28" y2="226.5" stroke="#c8102e" stroke-width="0.9"/>
<line x1="111.78" y1="226.5" x2="114.78" y2="226.5" stroke="#c8102e" stroke-width="0.9"/>
<line x1="139.27" y1="221.8" x2="139.27" y2="218.5" stroke="#c8102e" stroke-width="0.9"/>
<line x1="137.77" y1="218.5" x2="140.77" y2="218.5" stroke="#c8102e" stroke-width="0.9"/>
<line x1="156.6" y1="246.4" x2="156.6" y2="244" stroke="#c8102e" stroke-width="0.9"/>
<line x1="155.1" y1="244" x2="158.1" y2="244" stroke="#c8102e" stroke-width="0.9"/>
<line x1="35.3" y1="203.7" x2="35.3" y2="201" stroke="#1d4f8b" stroke-width="0.9"/>
<line x1="33.8" y1="201" x2="36.8" y2="201" stroke="#1d4f8b" stroke-width="0.9"/>
<line x1="61.29" y1="224.6" x2="61.29" y2="220.4" stroke="#1d4f8b" stroke-width="0.9"/>
<line x1="59.79" y1="220.4" x2="62.79" y2="220.4" stroke="#1d4f8b" stroke-width="0.9"/>
<line x1="78.62" y1="208.7" x2="78.62" y2="203.7" stroke="#1d4f8b" stroke-width="0.9"/>
<line x1="77.12" y1="203.7" x2="80.12" y2="203.7" stroke="#1d4f8b" stroke-width="0.9"/>
<line x1="95.95" y1="215.7" x2="95.95" y2="211.5" stroke="#1d4f8b" stroke-width="0.9"/>
<line x1="94.45" y1="211.5" x2="97.45" y2="211.5" stroke="#1d4f8b" stroke-width="0.9"/>
<line x1="113.28" y1="228" x2="113.28" y2="222.7" stroke="#1d4f8b" stroke-width="0.9"/>
<line x1="111.78" y1="222.7" x2="114.78" y2="222.7" stroke="#1d4f8b" stroke-width="0.9"/>
<line x1="139.27" y1="229.4" x2="139.27" y2="226" stroke="#1d4f8b" stroke-width="0.9"/>
<line x1="137.77" y1="226" x2="140.77" y2="226" stroke="#1d4f8b" stroke-width="0.9"/>
<line x1="156.6" y1="237.7" x2="156.6" y2="233.5" stroke="#1d4f8b" stroke-width="0.9"/>
<line x1="155.1" y1="233.5" x2="158.1" y2="233.5" stroke="#1d4f8b" stroke-width="0.9"/>
<polyline points="35.3,209.3 61.29,236.3 78.62,238.6 95.95,247.8 113.28,228.8 139.27,221.8 156.6,246.4" fill="none" stroke="#c8102e" stroke-width="1.2" stroke-linejoin="miter"/>
<polyline points="35.3,203.7 61.29,224.6 78.62,208.7 95.95,215.7 113.28,228 139.27,229.4 156.6,237.7" fill="none" stroke="#265487" stroke-width="1.2" stroke-linejoin="miter"/>
<rect x="33.2" y="207.2" width="4.2" height="4.2" fill="#c8102e"/>
<rect x="59.19" y="234.2" width="4.2" height="4.2" fill="#c8102e"/>
<rect x="76.52" y="236.5" width="4.2" height="4.2" fill="#c8102e"/>
<rect x="93.85" y="245.7" width="4.2" height="4.2" fill="#c8102e"/>
<rect x="111.18" y="226.7" width="4.2" height="4.2" fill="#c8102e"/>
<rect x="137.17" y="219.7" width="4.2" height="4.2" fill="#c8102e"/>
<rect x="154.5" y="244.3" width="4.2" height="4.2" fill="#c8102e"/>
<polygon points="35.3,201.43 37.4,205.21 33.2,205.21" fill="#1d4f8b"/>
<polygon points="61.29,222.33 63.39,226.11 59.19,226.11" fill="#1d4f8b"/>
<polygon points="78.62,206.43 80.72,210.21 76.52,210.21" fill="#1d4f8b"/>
<polygon points="95.95,213.43 98.05,217.21 93.85,217.21" fill="#1d4f8b"/>
<polygon points="113.28,225.73 115.38,229.51 111.18,229.51" fill="#1d4f8b"/>
<polygon points="139.27,227.13 141.37,230.91 137.17,230.91" fill="#1d4f8b"/>
<polygon points="156.6,235.43 158.7,239.21 154.5,239.21" fill="#1d4f8b"/>
<text x="61.29" y="214" font-size="6" text-anchor="middle" fill="#1a1a1a" stroke="#1a1a1a" stroke-width="0.1" font-weight="bold">*</text>
<text x="78.62" y="198.2" font-size="6" text-anchor="middle" fill="#1a1a1a" stroke="#1a1a1a" stroke-width="0.1" font-weight="bold">**</text>
<text x="95.95" y="206.8" font-size="6" text-anchor="middle" fill="#1a1a1a" stroke="#1a1a1a" stroke-width="0.1" font-weight="bold">**</text>
<line x1="39" y1="270.6" x2="47.3" y2="270.6" stroke="#cf3a55" stroke-width="1.1"/>
<rect x="41.1" y="268.6" width="4" height="4" fill="#c8102e"/>
<text x="50.7" y="272.8" font-size="6.4" text-anchor="start" fill="#1c1a1a" stroke="#1c1a1a" stroke-width="0.1" textLength="39" lengthAdjust="spacingAndGlyphs">No Treatment</text>
<line x1="39" y1="281.2" x2="47.3" y2="281.2" stroke="#265487" stroke-width="1.1"/>
<polygon points="43.1,279.04 45.1,282.64 41.1,282.64" fill="#1d4f8b"/>
<text x="50.7" y="283.4" font-size="6.4" text-anchor="start" fill="#1c1a1a" stroke="#1c1a1a" stroke-width="0.1" textLength="28.5" lengthAdjust="spacingAndGlyphs">Treatment</text>
<text x="177.8" y="176.6" font-size="11.5" text-anchor="start" fill="#000" stroke="#000" stroke-width="0.1" font-weight="bold">E</text>
<text x="240" y="192" font-size="9.3" text-anchor="middle" fill="#1a1a1a" stroke="#1a1a1a" stroke-width="0.1" textLength="64" lengthAdjust="spacingAndGlyphs">D+28 post-HSCT</text>
<text x="207.8" y="202.8" font-size="6.6" text-anchor="middle" fill="#d2506e" stroke="#d2506e" stroke-width="0.1" textLength="38" lengthAdjust="spacingAndGlyphs">No Treatment</text>
<text x="271" y="202.8" font-size="6.6" text-anchor="middle" fill="#5a7fb0" stroke="#5a7fb0" stroke-width="0.1" textLength="29" lengthAdjust="spacingAndGlyphs">Treatment</text>
<defs>
<pattern id="mesh" width="4" height="4" patternUnits="userSpaceOnUse"><rect width="4" height="4" fill="#e6dab9"/><rect width="4" height="1.1" fill="#cab589"/><rect width="1.1" height="4" fill="#cfbb8f"/></pattern>
<pattern id="mesh2" width="4" height="4" patternUnits="userSpaceOnUse" patternTransform="rotate(25)"><rect width="4" height="4" fill="#e2d6b3"/><rect width="4" height="1.1" fill="#c5af80"/><rect width="1.1" height="4" fill="#cab588"/></pattern>
<radialGradient id="mouse" cx="0.42" cy="0.32" r="0.72"><stop offset="0" stop-color="#ffffff"/><stop offset="0.5" stop-color="#f3f1ed"/><stop offset="0.8" stop-color="#dedad3"/><stop offset="1" stop-color="#c4bcb0"/></radialGradient>
<radialGradient id="mouseb" cx="0.42" cy="0.32" r="0.72"><stop offset="0" stop-color="#f6f7fb"/><stop offset="0.55" stop-color="#e3e5ee"/><stop offset="0.85" stop-color="#cfd1dc"/><stop offset="1" stop-color="#b8b8c4"/></radialGradient>
<radialGradient id="dark" cx="1" cy="0" r="0.6"><stop offset="0" stop-color="#3b2a1a" stop-opacity="0.9"/><stop offset="1" stop-color="#3b2a1a" stop-opacity="0"/></radialGradient>
<filter id="blur1" x="-20%" y="-20%" width="140%" height="140%"><feGaussianBlur stdDeviation="0.8"/></filter>
<filter id="blur05"><feGaussianBlur stdDeviation="0.5"/></filter>
</defs>
<g>
<rect x="177.9" y="206.8" width="61.6" height="39.7" fill="url(#mesh)" filter="url(#blur05)"/>
<g filter="url(#blur1)">
<ellipse cx="212" cy="240" rx="20" ry="4" fill="#8a7250" opacity="0.5"/>
<ellipse cx="208.5" cy="226.5" rx="22.5" ry="16.5" fill="url(#mouse)"/>
<ellipse cx="225" cy="230" rx="9" ry="8" fill="#ebe7e2"/>
<ellipse cx="221.5" cy="225.5" rx="2.2" ry="2.8" fill="#e6b8b0"/>
<ellipse cx="227" cy="236" rx="4" ry="2" fill="#c9a49a"/>
</g>
<rect x="178.4" y="207.3" width="60.6" height="38.7" fill="none" stroke="#3a3328" stroke-width="1"/>
</g>
<rect x="242.7" y="207.1" width="56.1" height="38.7" fill="url(#mesh2)" filter="url(#blur05)"/>
<rect x="242.7" y="207.1" width="56.1" height="38.7" fill="url(#dark)"/>
<g filter="url(#blur1)">
<ellipse cx="272" cy="233" rx="20" ry="5" transform="rotate(18 272 233)" fill="#7a6244" opacity="0.45"/>
<ellipse cx="267" cy="222.5" rx="21.5" ry="11" transform="rotate(18 267 222.5)" fill="url(#mouse)"/>
<ellipse cx="287" cy="234" rx="10.5" ry="6" transform="rotate(38 287 234)" fill="#efebe8"/>
<ellipse cx="283" cy="229" rx="2.2" ry="2.8" fill="#e8b8b5"/>
<ellipse cx="294.5" cy="242" rx="2" ry="1.5" fill="#b89088"/>
</g>
<rect x="243.2" y="207.6" width="55.1" height="37.7" fill="none" stroke="#2e2a26" stroke-width="1"/>
<rect x="177.9" y="248.8" width="61.6" height="39.7" fill="url(#mesh)" filter="url(#blur05)"/>
<g filter="url(#blur1)">
<ellipse cx="210" cy="284" rx="20" ry="4" fill="#8a7250" opacity="0.5"/>
<ellipse cx="205.5" cy="270.5" rx="20.5" ry="16" fill="url(#mouse)"/>
<ellipse cx="222" cy="263" rx="9.5" ry="7" fill="#f1eeeb"/>
<ellipse cx="219" cy="261.5" rx="2" ry="2.8" fill="#d9a0a0"/>
<ellipse cx="227" cy="261" rx="1.2" ry="1" fill="#8a94b0"/>
<ellipse cx="212" cy="284" rx="8" ry="2" fill="#b49a78"/>
</g>
<rect x="178.4" y="249.3" width="60.6" height="38.7" fill="none" stroke="#3a3328" stroke-width="1"/>
<rect x="242.7" y="247.7" width="58.2" height="41.2" fill="url(#mesh2)" filter="url(#blur05)"/>
<g filter="url(#blur1)">
<path d="M255 271 Q250 282 252 286" stroke="#d8a0a0" stroke-width="1.3" fill="none"/>
<ellipse cx="274" cy="274" rx="18" ry="4.5" fill="#7a6a50" opacity="0.45"/>
<ellipse cx="271" cy="262.5" rx="18.5" ry="11.5" transform="rotate(8 271 262.5)" fill="url(#mouseb)"/>
<ellipse cx="287" cy="273" rx="10" ry="6" transform="rotate(55 287 273)" fill="#e6e4ec"/>
<ellipse cx="284" cy="267" rx="2.2" ry="2.6" fill="#d6b0b8"/>
<ellipse cx="291" cy="279" rx="1.5" ry="1.5" fill="#9a6a70"/>
</g>
<rect x="243.2" y="248.2" width="57.2" height="40.2" fill="none" stroke="#2e2a26" stroke-width="1"/>
<text x="315.2" y="176.9" font-size="11.5" text-anchor="start" fill="#000" stroke="#000" stroke-width="0.1" font-weight="bold">F</text>
<text x="352.6" y="210.5" font-size="6.6" text-anchor="middle" fill="#d2506e" stroke="#d2506e" stroke-width="0.1" textLength="38.5" lengthAdjust="spacingAndGlyphs">No Treatment</text>
<text x="405" y="210.5" font-size="6.6" text-anchor="middle" fill="#5a7fb0" stroke="#5a7fb0" stroke-width="0.1" textLength="29" lengthAdjust="spacingAndGlyphs">Treatment</text>
<defs>
<pattern id="grid" width="2.2" height="2.2" patternUnits="userSpaceOnUse"><rect width="2.2" height="2.2" fill="#cfd0d2"/><rect width="2.2" height="0.9" fill="#eeeff0"/><rect width="0.9" height="2.2" fill="#e8e9ea"/></pattern>
<linearGradient id="ruler" x1="0" x2="1"><stop offset="0" stop-color="#f0f27a"/><stop offset="1" stop-color="#e6e6a0"/></linearGradient>
<radialGradient id="shadowF" cx="0.5" cy="0.5" r="0.5"><stop offset="0" stop-color="#7a7a7a" stop-opacity="0.55"/><stop offset="1" stop-color="#8a8a8a" stop-opacity="0"/></radialGradient>
</defs>
<rect x="315.1" y="211.3" width="114.3" height="78" fill="url(#grid)"/>
<rect x="315.1" y="211.3" width="114.3" height="6" fill="#e4ddd0"/>
<ellipse cx="405" cy="255" rx="26" ry="38" fill="url(#shadowF)"/>
<rect x="315.1" y="220.1" width="4.6" height="68.6" fill="#2b0c0a"/>
<circle cx="317.6" cy="254.5" r="1" fill="#f0e8e8"/><circle cx="317.6" cy="279" r="1" fill="#f0e8e8"/>
<rect x="319.7" y="220.1" width="9" height="68.6" fill="url(#ruler)"/>
<line x1="321.5" y1="222" x2="323.5" y2="222" stroke="#7a7a30" stroke-width="0.6"/>
<line x1="321.5" y1="226.9" x2="323.5" y2="226.9" stroke="#7a7a30" stroke-width="0.6"/>
<line x1="321.5" y1="231.8" x2="323.5" y2="231.8" stroke="#7a7a30" stroke-width="0.6"/>
<line x1="321.5" y1="236.7" x2="323.5" y2="236.7" stroke="#7a7a30" stroke-width="0.6"/>
<line x1="321.5" y1="241.6" x2="323.5" y2="241.6" stroke="#7a7a30" stroke-width="0.6"/>
<line x1="321.5" y1="246.5" x2="323.5" y2="246.5" stroke="#7a7a30" stroke-width="0.6"/>
<line x1="321.5" y1="251.4" x2="323.5" y2="251.4" stroke="#7a7a30" stroke-width="0.6"/>
<line x1="321.5" y1="256.3" x2="323.5" y2="256.3" stroke="#7a7a30" stroke-width="0.6"/>
<line x1="321.5" y1="261.2" x2="323.5" y2="261.2" stroke="#7a7a30" stroke-width="0.6"/>
<line x1="321.5" y1="266.1" x2="323.5" y2="266.1" stroke="#7a7a30" stroke-width="0.6"/>
<line x1="321.5" y1="271" x2="323.5" y2="271" stroke="#7a7a30" stroke-width="0.6"/>
<line x1="321.5" y1="275.9" x2="323.5" y2="275.9" stroke="#7a7a30" stroke-width="0.6"/>
<line x1="321.5" y1="280.8" x2="323.5" y2="280.8" stroke="#7a7a30" stroke-width="0.6"/>
<line x1="321.5" y1="285.7" x2="323.5" y2="285.7" stroke="#7a7a30" stroke-width="0.6"/>
<g filter="url(#blur05)">
<path d="M340.5 219 Q338.5 235 339 248 Q338.5 256 338.5 262" stroke="#a9505c" stroke-width="3.6" fill="none" stroke-linecap="round"/>
<ellipse cx="339.5" cy="230" rx="1.6" ry="2.08" fill="#7a3a34"/>
<ellipse cx="339" cy="246" rx="1.9" ry="2.4699999999999998" fill="#7a3a34"/>
<ellipse cx="338.6" cy="256" rx="1.7" ry="2.21" fill="#7a3a34"/>
<ellipse cx="343.4" cy="217.2" rx="6.8" ry="4.6" fill="#7e3628"/>
<path d="M357.5 220 Q356.5 240 356 250 Q355.5 256 355.8 260" stroke="#8c4242" stroke-width="4" fill="none" stroke-linecap="round"/>
<ellipse cx="356.5" cy="236" rx="2" ry="2.6" fill="#7a4038"/>
<ellipse cx="356" cy="247" rx="2" ry="2.6" fill="#7a4038"/>
<ellipse cx="355.8" cy="256" rx="1.8" ry="2.3400000000000003" fill="#7a4038"/>
<ellipse cx="358.2" cy="218.4" rx="5.8" ry="4.4" fill="#7e3428"/>
<path d="M367.3 221 Q366.8 245 366.3 258 Q365.8 268 366 274" stroke="#8c4a42" stroke-width="3.6" fill="none" stroke-linecap="round"/>
<ellipse cx="366.8" cy="232" rx="1.8" ry="2.3400000000000003" fill="#7a4438"/>
<ellipse cx="366.2" cy="252" rx="2" ry="2.6" fill="#7a4438"/>
<ellipse cx="366" cy="266" rx="2" ry="2.6" fill="#7a4438"/>
<ellipse cx="367.6" cy="219.2" rx="5.8" ry="4.2" fill="#843a2a"/>
<path d="M392 218 Q390 240 391 255 Q392 268 392.3 279" stroke="#7c5a48" stroke-width="2.8" fill="none" stroke-linecap="round"/>
<ellipse cx="391.5" cy="232" rx="1.9" ry="2.4699999999999998" fill="#3e2418"/>
<ellipse cx="391.6" cy="245" rx="2.1" ry="2.7300000000000004" fill="#3e2418"/>
<ellipse cx="392" cy="260" rx="2" ry="2.6" fill="#3e2418"/>
<ellipse cx="392.2" cy="274" rx="2" ry="2.6" fill="#3e2418"/>
<ellipse cx="391.2" cy="215.8" rx="6" ry="4.4" fill="#5a2e1e"/>
<path d="M405 220 Q406 240 404 260 Q403 275 403.5 286" stroke="#4a3325" stroke-width="4" fill="none" stroke-linecap="round"/>
<ellipse cx="404.8" cy="240" rx="2" ry="2.6" fill="#3a281e"/>
<ellipse cx="404" cy="262" rx="2.2" ry="2.8600000000000003" fill="#3a281e"/>
<ellipse cx="403.6" cy="278" rx="2" ry="2.6" fill="#3a281e"/>
<ellipse cx="405.8" cy="217.8" rx="5.6" ry="4.2" fill="#6e3a2a"/>
<path d="M419.2 219 Q418.2 240 417.2 255 Q415.7 268 414.9 279" stroke="#6a4a36" stroke-width="3.4" fill="none" stroke-linecap="round"/>
<ellipse cx="418" cy="240" rx="1.9" ry="2.4699999999999998" fill="#4a3020"/>
<ellipse cx="416.5" cy="262" rx="2" ry="2.6" fill="#4a3020"/>
<ellipse cx="420.3" cy="216.4" rx="6" ry="4.4" fill="#7a4028"/>
</g>
<line x1="460.8" y1="223.6" x2="460.8" y2="288.5" stroke="#1a1a1a" stroke-width="1.1"/>
<line x1="460.3" y1="288" x2="513.1" y2="288" stroke="#1a1a1a" stroke-width="1.1"/>
<line x1="458.4" y1="288" x2="460.8" y2="288" stroke="#1a1a1a" stroke-width="0.9"/>
<text x="457.3" y="290.3" font-size="6.6" text-anchor="end" fill="#2b2b2b" stroke="#2b2b2b" stroke-width="0.1">0</text>
<line x1="458.4" y1="275.6" x2="460.8" y2="275.6" stroke="#1a1a1a" stroke-width="0.9"/>
<text x="457.3" y="277.9" font-size="6.6" text-anchor="end" fill="#2b2b2b" stroke="#2b2b2b" stroke-width="0.1">2</text>
<line x1="458.4" y1="263.2" x2="460.8" y2="263.2" stroke="#1a1a1a" stroke-width="0.9"/>
<text x="457.3" y="265.5" font-size="6.6" text-anchor="end" fill="#2b2b2b" stroke="#2b2b2b" stroke-width="0.1">4</text>
<line x1="458.4" y1="250.8" x2="460.8" y2="250.8" stroke="#1a1a1a" stroke-width="0.9"/>
<text x="457.3" y="253.1" font-size="6.6" text-anchor="end" fill="#2b2b2b" stroke="#2b2b2b" stroke-width="0.1">6</text>
<line x1="458.4" y1="238.4" x2="460.8" y2="238.4" stroke="#1a1a1a" stroke-width="0.9"/>
<text x="457.3" y="240.7" font-size="6.6" text-anchor="end" fill="#2b2b2b" stroke="#2b2b2b" stroke-width="0.1">8</text>
<line x1="458.4" y1="226" x2="460.8" y2="226" stroke="#1a1a1a" stroke-width="0.9"/>
<text x="457.3" y="228.3" font-size="6.6" text-anchor="end" fill="#2b2b2b" stroke="#2b2b2b" stroke-width="0.1">10</text>
<line x1="459.4" y1="281.8" x2="460.8" y2="281.8" stroke="#1a1a1a" stroke-width="0.8"/>
<line x1="459.4" y1="269.4" x2="460.8" y2="269.4" stroke="#1a1a1a" stroke-width="0.8"/>
<line x1="459.4" y1="257" x2="460.8" y2="257" stroke="#1a1a1a" stroke-width="0.8"/>
<line x1="459.4" y1="244.6" x2="460.8" y2="244.6" stroke="#1a1a1a" stroke-width="0.8"/>
<line x1="459.4" y1="232.2" x2="460.8" y2="232.2" stroke="#1a1a1a" stroke-width="0.8"/>
<line x1="475.3" y1="288" x2="475.3" y2="290.2" stroke="#1a1a1a" stroke-width="0.9"/>
<line x1="498" y1="288" x2="498" y2="290.2" stroke="#1a1a1a" stroke-width="0.9"/>
<text x="0" y="0" font-size="8.4" text-anchor="middle" fill="#1c1a1a" stroke="#1c1a1a" stroke-width="0.1" textLength="50" lengthAdjust="spacingAndGlyphs" transform="translate(442.4 255.6) rotate(-90)">Colon length (cm)</text>
<rect x="468" y="253.8" width="14.8" height="34.2" fill="#e8899a"/>
<rect x="490.9" y="237" width="14.4" height="51" fill="#8aa7c6"/>
<line x1="475.4" y1="250.3" x2="475.4" y2="257.3" stroke="#c8102e" stroke-width="0.9"/>
<line x1="473.4" y1="250.3" x2="477.4" y2="250.3" stroke="#c8102e" stroke-width="0.9"/>
<line x1="498.1" y1="235.8" x2="498.1" y2="238.2" stroke="#1d4f8b" stroke-width="0.9"/>
<line x1="496.1" y1="235.8" x2="500.1" y2="235.8" stroke="#1d4f8b" stroke-width="0.9"/>
<rect x="473.6" y="246.9" width="3.4" height="3.4" fill="#c8102e"/>
<rect x="470.7" y="254.2" width="3.4" height="3.4" fill="#c8102e"/>
<rect x="476.8" y="254.2" width="3.4" height="3.4" fill="#c8102e"/>
<polygon points="494.9,234.56 496.6,237.62 493.2,237.62" fill="#1d4f8b"/>
<polygon points="500.1,234.56 501.8,237.62 498.4,237.62" fill="#1d4f8b"/>
<polygon points="497.8,238.16 499.5,241.22 496.1,241.22" fill="#1d4f8b"/>
<line x1="473.8" y1="231.7" x2="497.5" y2="231.7" stroke="#1a1a1a" stroke-width="1.1"/>
<text x="485.4" y="231" font-size="6" text-anchor="middle" fill="#1a1a1a" stroke="#1a1a1a" stroke-width="0.1" font-weight="bold">**</text>
<rect x="463.5" y="203.4" width="4" height="4" fill="#c8102e"/>
<text x="471" y="207.7" font-size="6.4" text-anchor="start" fill="#1c1a1a" stroke="#1c1a1a" stroke-width="0.1" textLength="39" lengthAdjust="spacingAndGlyphs">No Treatment</text>
<polygon points="465.5,213.64 467.5,217.24 463.5,217.24" fill="#1d4f8b"/>
<text x="471" y="218.1" font-size="6.4" text-anchor="start" fill="#1c1a1a" stroke="#1c1a1a" stroke-width="0.1" textLength="28.5" lengthAdjust="spacingAndGlyphs">Treatment</text>
<text x="7.3" y="337.6" font-size="11.5" text-anchor="start" fill="#000" stroke="#000" stroke-width="0.1" font-weight="bold">G</text>
<polygon points="44.6,359.2 186.8,359.2 186.8,472.5 44.6,472.5" fill="#c3c3c8"/>
<polygon points="44.6,417.4 79.3,443.5 83.8,458 88.6,440.7 119.1,451 152.2,416.7 186.8,411.5 186.8,472.5 152.2,472.5 119.1,472.5 88.6,472.5 83.8,472.5 79.3,472.5 44.6,472.5" fill="#f9bb1e" stroke="#f9bb1e" stroke-width="0.25"/>
<polygon points="44.6,398.3 79.3,421 83.8,423.6 88.6,412.5 119.1,444.4 152.2,399.4 186.8,402.3 186.8,411.5 152.2,416.7 119.1,451 88.6,440.7 83.8,458 79.3,443.5 44.6,417.4" fill="#c8102e" stroke="#c8102e" stroke-width="0.25"/>
<polygon points="44.6,398.3 79.3,421 83.8,423.6 88.6,409.5 119.1,382 152.2,385.2 186.8,385.9 186.8,402.3 152.2,399.4 119.1,444.4 88.6,412.5 83.8,423.6 79.3,421 44.6,398.3" fill="#7d78bb" stroke="#7d78bb" stroke-width="0.25"/>
<polygon points="44.6,393.3 79.3,411 83.8,406.6 88.6,404.5 119.1,381.7 152.2,384 186.8,384.6 186.8,385.9 152.2,385.2 119.1,382 88.6,409.5 83.8,423.6 79.3,421 44.6,398.3" fill="#0e6b50" stroke="#0e6b50" stroke-width="0.25"/>
<polygon points="44.6,389.3 79.3,404 83.8,405.1 88.6,396.2 119.1,381.3 152.2,382.7 186.8,383.3 186.8,384.6 152.2,384 119.1,381.7 88.6,404.5 83.8,406.6 79.3,411 44.6,393.3" fill="#1b5394" stroke="#1b5394" stroke-width="0.25"/>
<polygon points="44.6,386.3 79.3,400 83.8,400.1 88.6,393.7 119.1,380.9 152.2,380.2 186.8,382.1 186.8,383.3 152.2,382.7 119.1,381.3 88.6,396.2 83.8,405.1 79.3,404 44.6,389.3" fill="#c5772e" stroke="#c5772e" stroke-width="0.25"/>
<polygon points="44.6,384.3 79.3,397 83.8,397.1 88.6,391.7 119.1,380.6 152.2,378.7 186.8,381.3 186.8,382.1 152.2,380.2 119.1,380.9 88.6,393.7 83.8,400.1 79.3,400 44.6,386.3" fill="#5a3212" stroke="#5a3212" stroke-width="0.25"/>
<polygon points="44.6,382.3 79.3,395 83.8,395.1 88.6,388.7 119.1,380.4 152.2,377.5 186.8,380.4 186.8,381.3 152.2,378.7 119.1,380.6 88.6,391.7 83.8,397.1 79.3,397 44.6,384.3" fill="#3cb44a" stroke="#3cb44a" stroke-width="0.25"/>
<polygon points="44.6,382 79.3,394.7 83.8,394.8 88.6,388.4 119.1,380.2 152.2,372.3 186.8,371.2 186.8,380.4 152.2,377.5 119.1,380.4 88.6,388.7 83.8,395.1 79.3,395 44.6,382.3" fill="#2aa4df" stroke="#2aa4df" stroke-width="0.25"/>
<polygon points="44.6,381 79.3,393.7 83.8,393.8 88.6,387.4 119.1,380 152.2,371.3 186.8,369.8 186.8,371.2 152.2,372.3 119.1,380.2 88.6,388.4 83.8,394.8 79.3,394.7 44.6,382" fill="#ec8394" stroke="#ec8394" stroke-width="0.25"/>
<polygon points="44.6,379 79.3,391.7 83.8,391.8 88.6,385.4 119.1,379.7 152.2,370.9 186.8,369.4 186.8,369.8 152.2,371.3 119.1,380 88.6,387.4 83.8,393.8 79.3,393.7 44.6,381" fill="#d6eacf" stroke="#d6eacf" stroke-width="0.25"/>
<polygon points="44.6,378.8 79.3,391.2 83.8,391.3 88.6,384.4 119.1,364.5 152.2,370.6 186.8,369.1 186.8,369.4 152.2,370.9 119.1,379.7 88.6,385.4 83.8,391.8 79.3,391.7 44.6,379" fill="#a4c08a" stroke="#a4c08a" stroke-width="0.25"/>
<polygon points="44.6,377.4 79.3,389.7 83.8,390.1 88.6,383.2 119.1,364 152.2,369.8 186.8,368.3 186.8,369.1 152.2,370.6 119.1,364.5 88.6,384.4 83.8,391.3 79.3,391.2 44.6,378.8" fill="#4a1b6c" stroke="#4a1b6c" stroke-width="0.25"/>
<line x1="37.6" y1="356.3" x2="37.6" y2="478.3" stroke="#1a1a1a" stroke-width="1.1"/>
<line x1="37.1" y1="477.8" x2="186.8" y2="477.8" stroke="#1a1a1a" stroke-width="1.1"/>
<line x1="35" y1="472.6" x2="37.6" y2="472.6" stroke="#1a1a1a" stroke-width="0.9"/>
<text x="32.8" y="475" font-size="6.9" text-anchor="end" fill="#2b2b2b" stroke="#2b2b2b" stroke-width="0.1">0.00</text>
<line x1="35" y1="444.23" x2="37.6" y2="444.23" stroke="#1a1a1a" stroke-width="0.9"/>
<text x="32.8" y="446.62" font-size="6.9" text-anchor="end" fill="#2b2b2b" stroke="#2b2b2b" stroke-width="0.1">0.25</text>
<line x1="35" y1="415.85" x2="37.6" y2="415.85" stroke="#1a1a1a" stroke-width="0.9"/>
<text x="32.8" y="418.25" font-size="6.9" text-anchor="end" fill="#2b2b2b" stroke="#2b2b2b" stroke-width="0.1">0.50</text>
<line x1="35" y1="387.48" x2="37.6" y2="387.48" stroke="#1a1a1a" stroke-width="0.9"/>
<text x="32.8" y="389.88" font-size="6.9" text-anchor="end" fill="#2b2b2b" stroke="#2b2b2b" stroke-width="0.1">0.75</text>
<line x1="35" y1="359.1" x2="37.6" y2="359.1" stroke="#1a1a1a" stroke-width="0.9"/>
<text x="32.8" y="361.5" font-size="6.9" text-anchor="end" fill="#2b2b2b" stroke="#2b2b2b" stroke-width="0.1">1.00</text>
<line x1="84" y1="477.8" x2="84" y2="480.2" stroke="#1a1a1a" stroke-width="0.9"/>
<text x="84" y="490.4" font-size="6.9" text-anchor="middle" fill="#2b2b2b" stroke="#2b2b2b" stroke-width="0.1">0</text>
<line x1="133.3" y1="477.8" x2="133.3" y2="480.2" stroke="#1a1a1a" stroke-width="0.9"/>
<text x="133.3" y="490.4" font-size="6.9" text-anchor="middle" fill="#2b2b2b" stroke="#2b2b2b" stroke-width="0.1">10</text>
<line x1="182.6" y1="477.8" x2="182.6" y2="480.2" stroke="#1a1a1a" stroke-width="0.9"/>
<text x="182.6" y="490.4" font-size="6.9" text-anchor="middle" fill="#2b2b2b" stroke="#2b2b2b" stroke-width="0.1">20</text>
<text x="111.7" y="351.5" font-size="8.5" text-anchor="middle" fill="#1c1a1a" stroke="#1c1a1a" stroke-width="0.1">No Treatment</text>
<text x="111.12" y="501.4" font-size="7.8" text-anchor="middle" fill="#1c1a1a" stroke="#1c1a1a" stroke-width="0.1" textLength="15.5" lengthAdjust="spacingAndGlyphs">Time</text>
<text x="0" y="0" font-size="7.4" text-anchor="middle" fill="#1c1a1a" stroke="#1c1a1a" stroke-width="0.1" textLength="44.6" lengthAdjust="spacingAndGlyphs" transform="translate(14 416.6) rotate(-90)">Rel.abundance</text>
<polygon points="312,359.1 459.9,359.1 459.9,472.4 312,472.4" fill="#c3c3c8"/>
<polygon points="312,404.4 347.7,449.7 352.7,429.5 357.5,444.6 388.7,432.9 424.1,410.7 459.9,402.3 459.9,472.4 424.1,472.4 388.7,472.4 357.5,472.4 352.7,472.4 347.7,472.4 312,472.4" fill="#f9bb1e" stroke="#f9bb1e" stroke-width="0.25"/>
<polygon points="312,389.3 347.7,411.7 352.7,406.1 357.5,413.4 388.7,402.91 424.1,391 459.9,386.2 459.9,402.3 424.1,410.7 388.7,432.9 357.5,444.6 352.7,429.5 347.7,449.7 312,404.4" fill="#c8102e" stroke="#c8102e" stroke-width="0.25"/>
<polygon points="312,389.3 347.7,411.7 352.7,406.1 357.5,412.9 388.7,400.67 424.1,386.8 459.9,383.3 459.9,386.2 424.1,391 388.7,402.91 357.5,413.4 352.7,406.1 347.7,411.7 312,389.3" fill="#7d78bb" stroke="#7d78bb" stroke-width="0.25"/>
<polygon points="312,386.3 347.7,408.7 352.7,404.1 357.5,408.3 388.7,397.1 424.1,384.4 459.9,381.5 459.9,383.3 424.1,386.8 388.7,400.67 357.5,412.9 352.7,406.1 347.7,411.7 312,389.3" fill="#0e6b50" stroke="#0e6b50" stroke-width="0.25"/>
<polygon points="312,383.8 347.7,405.7 352.7,398.7 357.5,401.8 388.7,392.57 424.1,382.1 459.9,379.7 459.9,381.5 424.1,384.4 388.7,397.1 357.5,408.3 352.7,404.1 347.7,408.7 312,386.3" fill="#1b5394" stroke="#1b5394" stroke-width="0.25"/>
<polygon points="312,380.2 347.7,393.5 352.7,393.5 357.5,399.6 388.7,390 424.1,379.1 459.9,377.6 459.9,379.7 424.1,382.1 388.7,392.57 357.5,401.8 352.7,398.7 347.7,405.7 312,383.8" fill="#c5772e" stroke="#c5772e" stroke-width="0.25"/>
<polygon points="312,377.2 347.7,390 352.7,391.5 357.5,397.9 388.7,388.53 424.1,377.9 459.9,376.5 459.9,377.6 424.1,379.1 388.7,390 357.5,399.6 352.7,393.5 347.7,393.5 312,380.2" fill="#5a3212" stroke="#5a3212" stroke-width="0.25"/>
<polygon points="312,375.2 347.7,387 352.7,390 357.5,394.8 388.7,386.32 424.1,376.7 459.9,375.5 459.9,376.5 424.1,377.9 388.7,388.53 357.5,397.9 352.7,391.5 347.7,390 312,377.2" fill="#3cb44a" stroke="#3cb44a" stroke-width="0.25"/>
<polygon points="312,375 347.7,386.7 352.7,389.5 357.5,393.5 388.7,383.94 424.1,373.1 459.9,372.5 459.9,375.5 424.1,376.7 388.7,386.32 357.5,394.8 352.7,390 347.7,387 312,375.2" fill="#2aa4df" stroke="#2aa4df" stroke-width="0.25"/>
<polygon points="312,374.5 347.7,385.2 352.7,388 357.5,392.3 388.7,382.88 424.1,372.2 459.9,371.75 459.9,372.5 424.1,373.1 388.7,383.94 357.5,393.5 352.7,389.5 347.7,386.7 312,375" fill="#ec8394" stroke="#ec8394" stroke-width="0.25"/>
<polygon points="312,374 347.7,383.7 352.7,386.5 357.5,391.1 388.7,381.82 424.1,371.3 459.9,371 459.9,371.75 424.1,372.2 388.7,382.88 357.5,392.3 352.7,388 347.7,385.2 312,374.5" fill="#d6eacf" stroke="#d6eacf" stroke-width="0.25"/>
<polygon points="312,374 347.7,383.7 352.7,386.5 357.5,391.1 388.7,381.82 424.1,371.3 459.9,371 459.9,371 424.1,371.3 388.7,381.82 357.5,391.1 352.7,386.5 347.7,383.7 312,374" fill="#a4c08a" stroke="#a4c08a" stroke-width="0.25"/>
<polygon points="312,373.2 347.7,382.9 352.7,385.7 357.5,390.2 388.7,380.78 424.1,370.1 459.9,370.1 459.9,371 424.1,371.3 388.7,381.82 357.5,391.1 352.7,386.5 347.7,383.7 312,374" fill="#4a1b6c" stroke="#4a1b6c" stroke-width="0.25"/>
<line x1="304.6" y1="356.3" x2="304.6" y2="478.5" stroke="#1a1a1a" stroke-width="1.1"/>
<line x1="304.1" y1="478" x2="460.5" y2="478" stroke="#1a1a1a" stroke-width="1.1"/>
<line x1="302" y1="472.4" x2="304.6" y2="472.4" stroke="#1a1a1a" stroke-width="0.9"/>
<text x="298.4" y="474.8" font-size="6.9" text-anchor="end" fill="#2b2b2b" stroke="#2b2b2b" stroke-width="0.1">0.00</text>
<line x1="302" y1="444.07" x2="304.6" y2="444.07" stroke="#1a1a1a" stroke-width="0.9"/>
<text x="298.4" y="446.47" font-size="6.9" text-anchor="end" fill="#2b2b2b" stroke="#2b2b2b" stroke-width="0.1">0.25</text>
<line x1="302" y1="415.75" x2="304.6" y2="415.75" stroke="#1a1a1a" stroke-width="0.9"/>
<text x="298.4" y="418.15" font-size="6.9" text-anchor="end" fill="#2b2b2b" stroke="#2b2b2b" stroke-width="0.1">0.50</text>
<line x1="302" y1="387.43" x2="304.6" y2="387.43" stroke="#1a1a1a" stroke-width="0.9"/>
<text x="298.4" y="389.82" font-size="6.9" text-anchor="end" fill="#2b2b2b" stroke="#2b2b2b" stroke-width="0.1">0.75</text>
<line x1="302" y1="359.1" x2="304.6" y2="359.1" stroke="#1a1a1a" stroke-width="0.9"/>
<text x="298.4" y="361.5" font-size="6.9" text-anchor="end" fill="#2b2b2b" stroke="#2b2b2b" stroke-width="0.1">1.00</text>
<line x1="351.9" y1="478" x2="351.9" y2="480.4" stroke="#1a1a1a" stroke-width="0.9"/>
<text x="351.9" y="490.4" font-size="6.9" text-anchor="middle" fill="#2b2b2b" stroke="#2b2b2b" stroke-width="0.1">0</text>
<line x1="403.85" y1="478" x2="403.85" y2="480.4" stroke="#1a1a1a" stroke-width="0.9"/>
<text x="403.85" y="490.4" font-size="6.9" text-anchor="middle" fill="#2b2b2b" stroke="#2b2b2b" stroke-width="0.1">10</text>
<line x1="455.8" y1="478" x2="455.8" y2="480.4" stroke="#1a1a1a" stroke-width="0.9"/>
<text x="455.8" y="490.4" font-size="6.9" text-anchor="middle" fill="#2b2b2b" stroke="#2b2b2b" stroke-width="0.1">20</text>
<text x="381.5" y="351.5" font-size="8.5" text-anchor="middle" fill="#1c1a1a" stroke="#1c1a1a" stroke-width="0.1">Treatment</text>
<text x="380.47" y="501.4" font-size="7.8" text-anchor="middle" fill="#1c1a1a" stroke="#1c1a1a" stroke-width="0.1" textLength="15.5" lengthAdjust="spacingAndGlyphs">Time</text>
<text x="196.8" y="352.6" font-size="6.4" text-anchor="start" fill="#2b2b2b" stroke="#2b2b2b" stroke-width="0.1" textLength="18.2" lengthAdjust="spacingAndGlyphs">Genus</text>
<rect x="197" y="356.2" width="8.8" height="8.7" fill="#c3c3c8"/>
<text x="209.2" y="362.8" font-size="6.3" text-anchor="start" fill="#2b2b2b" stroke="#2b2b2b" stroke-width="0.1">g__Other</text>
<rect x="197" y="365.82" width="8.8" height="8.7" fill="#4a1b6c"/>
<text x="209.2" y="372.42" font-size="6.3" text-anchor="start" fill="#2b2b2b" stroke="#2b2b2b" stroke-width="0.1">g__Mucispirillum</text>
<rect x="197" y="375.44" width="8.8" height="8.7" fill="#a4c08a"/>
<text x="209.2" y="382.04" font-size="6.3" text-anchor="start" fill="#2b2b2b" stroke="#2b2b2b" stroke-width="0.1">g__Enterococcus</text>
<rect x="197" y="385.06" width="8.8" height="8.7" fill="#d6eacf"/>
<text x="209.2" y="391.66" font-size="6.3" text-anchor="start" fill="#2b2b2b" stroke="#2b2b2b" stroke-width="0.1">g__Oscillibacter</text>
<rect x="197" y="394.68" width="8.8" height="8.7" fill="#ec8394"/>
<text x="209.2" y="401.28" font-size="6.3" text-anchor="start" fill="#2b2b2b" stroke="#2b2b2b" stroke-width="0.1">g__Bacteroides</text>
<rect x="197" y="404.3" width="8.8" height="8.7" fill="#2aa4df"/>
<text x="209.2" y="410.9" font-size="6.3" text-anchor="start" fill="#2b2b2b" stroke="#2b2b2b" stroke-width="0.1">g__Akkermansia</text>
<rect x="197" y="413.92" width="8.8" height="8.7" fill="#3cb44a"/>
<text x="209.2" y="420.52" font-size="6.3" text-anchor="start" fill="#2b2b2b" stroke="#2b2b2b" stroke-width="0.1">g__Spiroplasma</text>
<rect x="197" y="423.54" width="8.8" height="8.7" fill="#5a3212"/>
<text x="209.2" y="430.14" font-size="6.3" text-anchor="start" fill="#2b2b2b" stroke="#2b2b2b" stroke-width="0.1">g__Breznakia</text>
<rect x="197" y="433.16" width="8.8" height="8.7" fill="#c5772e"/>
<text x="209.2" y="439.76" font-size="6.3" text-anchor="start" fill="#2b2b2b" stroke="#2b2b2b" stroke-width="0.1">g__Prevotella</text>
<rect x="197" y="442.78" width="8.8" height="8.7" fill="#1b5394"/>
<text x="209.2" y="449.38" font-size="6.3" text-anchor="start" fill="#2b2b2b" stroke="#2b2b2b" stroke-width="0.1">g__Kineothrix</text>
<rect x="197" y="452.4" width="8.8" height="8.7" fill="#0e6b50"/>
<text x="209.2" y="459" font-size="6.3" text-anchor="start" fill="#2b2b2b" stroke="#2b2b2b" stroke-width="0.1">g__Lachnoclostridium</text>
<rect x="197" y="462.02" width="8.8" height="8.7" fill="#7d78bb"/>
<text x="209.2" y="468.62" font-size="6.3" text-anchor="start" fill="#2b2b2b" stroke="#2b2b2b" stroke-width="0.1">g__Escherichia</text>
<rect x="197" y="471.64" width="8.8" height="8.7" fill="#c8102e"/>
<text x="209.2" y="478.24" font-size="6.3" text-anchor="start" fill="#2b2b2b" stroke="#2b2b2b" stroke-width="0.1">g__Muribaculum</text>
<rect x="197" y="481.26" width="8.8" height="8.7" fill="#f9bb1e"/>
<text x="209.2" y="487.86" font-size="6.3" text-anchor="start" fill="#2b2b2b" stroke="#2b2b2b" stroke-width="0.1">g__Lactobacillus</text>
<text x="7.2" y="528.3" font-size="11.5" text-anchor="start" fill="#000" stroke="#000" stroke-width="0.1" font-weight="bold">H</text>
<text x="108.7" y="532.6" font-size="8.4" text-anchor="middle" fill="#1c1a1a" stroke="#1c1a1a" stroke-width="0.1" textLength="51.2" lengthAdjust="spacingAndGlyphs">Diversity – d7</text>
<text x="108.3" y="543.1" font-size="6.4" text-anchor="middle" fill="#1c1a1a" stroke="#1c1a1a" stroke-width="0.1" textLength="19.5" lengthAdjust="spacingAndGlyphs">0.0007</text>
<line x1="93.1" y1="547.5" x2="124.4" y2="547.5" stroke="#1a1a1a" stroke-width="0.9"/>
<line x1="73.3" y1="547" x2="73.3" y2="635.5" stroke="#1a1a1a" stroke-width="1.1"/>
<line x1="72.8" y1="635" x2="143.8" y2="635" stroke="#1a1a1a" stroke-width="1.1"/>
<line x1="70.9" y1="550.9" x2="73.3" y2="550.9" stroke="#1a1a1a" stroke-width="0.9"/>
<text x="68.7" y="553.3" font-size="6.8" text-anchor="end" fill="#2b2b2b" stroke="#2b2b2b" stroke-width="0.1">1.6</text>
<line x1="70.9" y1="574.4" x2="73.3" y2="574.4" stroke="#1a1a1a" stroke-width="0.9"/>
<text x="68.7" y="576.8" font-size="6.8" text-anchor="end" fill="#2b2b2b" stroke="#2b2b2b" stroke-width="0.1">1.2</text>
<line x1="70.9" y1="598.1" x2="73.3" y2="598.1" stroke="#1a1a1a" stroke-width="0.9"/>
<text x="68.7" y="600.5" font-size="6.8" text-anchor="end" fill="#2b2b2b" stroke="#2b2b2b" stroke-width="0.1">0.8</text>
<line x1="70.9" y1="621.7" x2="73.3" y2="621.7" stroke="#1a1a1a" stroke-width="0.9"/>
<text x="68.7" y="624.1" font-size="6.8" text-anchor="end" fill="#2b2b2b" stroke="#2b2b2b" stroke-width="0.1">0.4</text>
<line x1="92.8" y1="635" x2="92.8" y2="637.2" stroke="#1a1a1a" stroke-width="0.9"/>
<line x1="124.6" y1="635" x2="124.6" y2="637.2" stroke="#1a1a1a" stroke-width="0.9"/>
<text x="0" y="0" font-size="8.8" text-anchor="middle" fill="#1c1a1a" stroke="#1c1a1a" stroke-width="0.1" textLength="80" lengthAdjust="spacingAndGlyphs" transform="translate(54.1 591.5) rotate(-90)">Log10 (simpson reciprocal)</text>
<line x1="93" y1="597.4" x2="93" y2="603.6" stroke="#d0475f" stroke-width="0.8"/>
<line x1="93" y1="625.5" x2="93" y2="631.1" stroke="#d0475f" stroke-width="0.8"/>
<rect x="82.35" y="603.6" width="21.3" height="21.9" fill="#fff" stroke="#d0475f" stroke-width="0.9"/>
<line x1="82.35" y1="615" x2="103.65" y2="615" stroke="#d0475f" stroke-width="0.9"/>
<circle cx="92.7" cy="563.6" r="0.6" fill="#d0475f" opacity="0.55"/>
<circle cx="94" cy="609" r="0.6" fill="#d0475f" opacity="0.55"/>
<circle cx="91.8" cy="617" r="0.6" fill="#d0475f" opacity="0.55"/>
<circle cx="90.5" cy="621.5" r="0.6" fill="#d0475f" opacity="0.55"/>
<circle cx="92.2" cy="632" r="0.6" fill="#d0475f" opacity="0.55"/>
<circle cx="95.5" cy="606" r="0.6" fill="#d0475f" opacity="0.55"/>
<line x1="124.4" y1="550.8" x2="124.4" y2="561.5" stroke="#3a6ea5" stroke-width="0.8"/>
<line x1="124.4" y1="588.2" x2="124.4" y2="599.1" stroke="#3a6ea5" stroke-width="0.8"/>
<rect x="113.6" y="561.5" width="21.6" height="26.7" fill="#fff" stroke="#3a6ea5" stroke-width="0.9"/>
<line x1="113.6" y1="565.1" x2="135.2" y2="565.1" stroke="#3a6ea5" stroke-width="0.9"/>
<circle cx="125" cy="559" r="0.6" fill="#3a6ea5" opacity="0.55"/>
<circle cx="122.5" cy="573" r="0.6" fill="#3a6ea5" opacity="0.55"/>
<circle cx="124.2" cy="583" r="0.6" fill="#3a6ea5" opacity="0.55"/>
<circle cx="122" cy="598" r="0.6" fill="#3a6ea5" opacity="0.55"/>
<circle cx="128" cy="599" r="0.6" fill="#3a6ea5" opacity="0.55"/>
<text x="214.3" y="532.5" font-size="8.4" text-anchor="middle" fill="#1c1a1a" stroke="#1c1a1a" stroke-width="0.1" textLength="74" lengthAdjust="spacingAndGlyphs">g__Escherichia – d7</text>
<text x="214.5" y="542.8" font-size="6.4" text-anchor="middle" fill="#1c1a1a" stroke="#1c1a1a" stroke-width="0.1" textLength="23.3" lengthAdjust="spacingAndGlyphs">&lt;0.0001</text>
<line x1="198.9" y1="547.6" x2="230.4" y2="547.6" stroke="#1a1a1a" stroke-width="0.9"/>
<line x1="179.2" y1="547.3" x2="179.2" y2="635.5" stroke="#1a1a1a" stroke-width="1.1"/>
<line x1="178.7" y1="635" x2="248" y2="635" stroke="#1a1a1a" stroke-width="1.1"/>
<line x1="176.8" y1="550" x2="179.2" y2="550" stroke="#1a1a1a" stroke-width="0.9"/>
<text x="173.6" y="552.4" font-size="6.8" text-anchor="end" fill="#2b2b2b" stroke="#2b2b2b" stroke-width="0.1">0</text>
<line x1="176.8" y1="574.8" x2="179.2" y2="574.8" stroke="#1a1a1a" stroke-width="0.9"/>
<text x="173.6" y="577.2" font-size="6.8" text-anchor="end" fill="#2b2b2b" stroke="#2b2b2b" stroke-width="0.1">-1</text>
<line x1="176.8" y1="599.8" x2="179.2" y2="599.8" stroke="#1a1a1a" stroke-width="0.9"/>
<text x="173.6" y="602.2" font-size="6.8" text-anchor="end" fill="#2b2b2b" stroke="#2b2b2b" stroke-width="0.1">-2</text>
<line x1="176.8" y1="624" x2="179.2" y2="624" stroke="#1a1a1a" stroke-width="0.9"/>
<text x="173.6" y="626.4" font-size="6.8" text-anchor="end" fill="#2b2b2b" stroke="#2b2b2b" stroke-width="0.1">-3</text>
<line x1="198.4" y1="635" x2="198.4" y2="637.2" stroke="#1a1a1a" stroke-width="0.9"/>
<line x1="230.5" y1="635" x2="230.5" y2="637.2" stroke="#1a1a1a" stroke-width="0.9"/>
<text x="0" y="0" font-size="8.8" text-anchor="middle" fill="#1c1a1a" stroke="#1c1a1a" stroke-width="0.1" textLength="78" lengthAdjust="spacingAndGlyphs" transform="translate(159.9 591.7) rotate(-90)">Log10 (relative abundance)</text>
<line x1="198.8" y1="551.6" x2="198.8" y2="554.1" stroke="#d0475f" stroke-width="0.8"/>
<line x1="198.8" y1="559.7" x2="198.8" y2="561.2" stroke="#d0475f" stroke-width="0.8"/>
<rect x="188.1" y="554.1" width="21.4" height="5.6" fill="#fff" stroke="#d0475f" stroke-width="0.9"/>
<line x1="188.1" y1="556.8" x2="209.5" y2="556.8" stroke="#d0475f" stroke-width="0.9"/>
<circle cx="196.2" cy="575.5" r="0.6" fill="#d0475f" opacity="0.55"/>
<circle cx="199.5" cy="553.3" r="0.6" fill="#d0475f" opacity="0.55"/>
<circle cx="197.5" cy="558.5" r="0.6" fill="#d0475f" opacity="0.55"/>
<line x1="230.8" y1="611.6" x2="230.8" y2="611.6" stroke="#3a6ea5" stroke-width="0.8"/>
<line x1="230.8" y1="624.3" x2="230.8" y2="630.5" stroke="#3a6ea5" stroke-width="0.8"/>
<rect x="220.45" y="611.6" width="20.7" height="12.7" fill="#fff" stroke="#3a6ea5" stroke-width="0.9"/>
<line x1="220.45" y1="618.7" x2="241.15" y2="618.7" stroke="#3a6ea5" stroke-width="0.9"/>
<circle cx="230.1" cy="570" r="0.6" fill="#3a6ea5" opacity="0.55"/>
<circle cx="230.1" cy="584.5" r="0.6" fill="#3a6ea5" opacity="0.55"/>
<circle cx="231.5" cy="614" r="0.6" fill="#3a6ea5" opacity="0.55"/>
<circle cx="229" cy="628" r="0.6" fill="#3a6ea5" opacity="0.55"/>
<text x="322.3" y="532.1" font-size="8.4" text-anchor="middle" fill="#1c1a1a" stroke="#1c1a1a" stroke-width="0.1" textLength="81.7" lengthAdjust="spacingAndGlyphs">g__Enterococcus – d7</text>
<text x="322.5" y="542.5" font-size="6.4" text-anchor="middle" fill="#1c1a1a" stroke="#1c1a1a" stroke-width="0.1" textLength="22.5" lengthAdjust="spacingAndGlyphs">&lt;0.0001</text>
<line x1="306.8" y1="547.2" x2="338" y2="547.2" stroke="#1a1a1a" stroke-width="0.9"/>
<line x1="287.7" y1="548.5" x2="287.7" y2="635.4" stroke="#1a1a1a" stroke-width="1.1"/>
<line x1="287.2" y1="634.9" x2="357.2" y2="634.9" stroke="#1a1a1a" stroke-width="1.1"/>
<line x1="285.3" y1="563.9" x2="287.7" y2="563.9" stroke="#1a1a1a" stroke-width="0.9"/>
<text x="281.4" y="566.3" font-size="6.8" text-anchor="end" fill="#2b2b2b" stroke="#2b2b2b" stroke-width="0.1">-1</text>
<line x1="285.3" y1="589.9" x2="287.7" y2="589.9" stroke="#1a1a1a" stroke-width="0.9"/>
<text x="281.4" y="592.3" font-size="6.8" text-anchor="end" fill="#2b2b2b" stroke="#2b2b2b" stroke-width="0.1">-2</text>
<line x1="285.3" y1="615.4" x2="287.7" y2="615.4" stroke="#1a1a1a" stroke-width="0.9"/>
<text x="281.4" y="617.8" font-size="6.8" text-anchor="end" fill="#2b2b2b" stroke="#2b2b2b" stroke-width="0.1">-3</text>
<line x1="306.7" y1="634.9" x2="306.7" y2="637.1" stroke="#1a1a1a" stroke-width="0.9"/>
<line x1="338.5" y1="634.9" x2="338.5" y2="637.1" stroke="#1a1a1a" stroke-width="0.9"/>
<text x="0" y="0" font-size="8.8" text-anchor="middle" fill="#1c1a1a" stroke="#1c1a1a" stroke-width="0.1" textLength="78" lengthAdjust="spacingAndGlyphs" transform="translate(269.1 591.7) rotate(-90)">Log10 (relative abundance)</text>
<line x1="306.55" y1="552.1" x2="306.55" y2="555.3" stroke="#d0475f" stroke-width="0.8"/>
<line x1="306.55" y1="579.6" x2="306.55" y2="595.8" stroke="#d0475f" stroke-width="0.8"/>
<rect x="296" y="555.3" width="21.1" height="24.3" fill="#fff" stroke="#d0475f" stroke-width="0.9"/>
<line x1="296" y1="566.7" x2="317.1" y2="566.7" stroke="#d0475f" stroke-width="0.9"/>
<circle cx="305.5" cy="553" r="0.6" fill="#d0475f" opacity="0.55"/>
<circle cx="307.5" cy="557" r="0.6" fill="#d0475f" opacity="0.55"/>
<circle cx="304.5" cy="572.5" r="0.6" fill="#d0475f" opacity="0.55"/>
<circle cx="306" cy="587" r="0.6" fill="#d0475f" opacity="0.55"/>
<line x1="338.65" y1="583.6" x2="338.65" y2="604.4" stroke="#3a6ea5" stroke-width="0.8"/>
<line x1="338.65" y1="626" x2="338.65" y2="630.5" stroke="#3a6ea5" stroke-width="0.8"/>
<rect x="328.2" y="604.4" width="20.9" height="21.6" fill="#fff" stroke="#3a6ea5" stroke-width="0.9"/>
<line x1="328.2" y1="616.5" x2="349.1" y2="616.5" stroke="#3a6ea5" stroke-width="0.9"/>
<circle cx="337" cy="614" r="0.6" fill="#3a6ea5" opacity="0.55"/>
<circle cx="340.5" cy="619.5" r="0.6" fill="#3a6ea5" opacity="0.55"/>
<circle cx="336.5" cy="630" r="0.6" fill="#3a6ea5" opacity="0.55"/>
<circle cx="340" cy="632" r="0.6" fill="#3a6ea5" opacity="0.55"/>
<rect x="366.2" y="581.9" width="13.4" height="6.9" fill="#c8102e"/>
<text x="382.9" y="587.7" font-size="6.6" text-anchor="start" fill="#1c1a1a" stroke="#1c1a1a" stroke-width="0.1" textLength="39" lengthAdjust="spacingAndGlyphs">No Treatment</text>
<rect x="366.2" y="594.6" width="13.4" height="7.1" fill="#1b5394"/>
<text x="382.9" y="600.6" font-size="6.6" text-anchor="start" fill="#1c1a1a" stroke="#1c1a1a" stroke-width="0.1" textLength="28.3" lengthAdjust="spacingAndGlyphs">Treatment</text>
<rect x="0.5" y="0.5" width="519" height="644" fill="none" stroke="#3a3a3a" stroke-width="1"/>
</svg></body></html>
